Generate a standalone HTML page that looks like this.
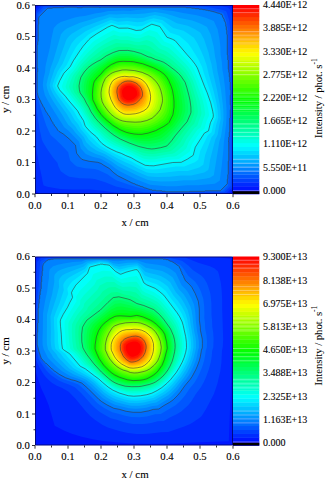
<!DOCTYPE html>
<html><head><meta charset="utf-8"><style>
html,body{margin:0;padding:0;background:#fff;width:326px;height:479px;overflow:hidden}
svg{display:block}
text{font-family:"Liberation Serif",serif;fill:#000;stroke:#000;stroke-width:0.1px}
</style></head><body>
<svg width="326" height="479" viewBox="0 0 326 479">
<clipPath id="c1"><rect x="35" y="5" width="198" height="189"/></clipPath>
<g clip-path="url(#c1)">
<rect x="35" y="5" width="198" height="189" fill="#0000ff"/>
<path fill="#0016ff" d="M231.2 193.8L36.7 193.8 35.2 192.3 35.2 191.8 35.2 6.7 36.7 5.2 37.2 5.2 231.3 5.2 232.8 6.7 232.8 7.2 232.8 191.8 232.8 192.3 231.2 193.8Z"/>
<path fill="#002bff" d="M228.8 193.3L39 193.2 35.8 190 35.6 188.8 35.8 9 39 5.8 40.2 5.6 229 5.8 232.2 9 232.4 10.2 232.4 188.8 232.2 190 228.8 193.3Z"/>
<path fill="#0041ff" d="M226.2 192.9L138.8 193 117.4 192.8 103.2 190.8 90.2 189.6 73.2 189.6 60.2 189.1 47.2 186.8 43.8 185.6 43.5 185.2 42.6 181.8 41.9 177.2 39.8 168 36.2 149 36 121.2 36 13.8 36.2 11.2 41.2 6.3 43.2 6 209.2 6 221.8 6.2 227.8 7.4 228.2 7.8 230.2 9.8 231.8 16.2 231.8 18.8 232 185.8 231.8 187.8 226.8 192.8 226.2 192.9Z"/>
<path fill="#0057ff" d="M224.2 192.3L167.2 192.6 143.8 192.2 135.2 190.7 115.8 186.5 110.8 184.6 105.2 182.2 94.8 179.1 90.2 178.6 79.8 178.3 69.2 176.8 65.7 174.8 60.8 171.3 58.4 166.2 57.4 162.8 53.2 157.7 47.8 150 43.3 142.8 41.9 139.8 39.7 129.8 36.8 112.1 36.4 95.2 36.4 49.8 36.8 13.5 43.5 6.8 45.8 6.5 183.8 6.4 200.8 6.6 205.2 6.8 213.2 7.9 220.8 9.4 225.8 10.9 226.4 11.8 227 13.2 229.3 20.8 230.2 28.8 230.7 37.2 230.7 50.2 231.2 58 231.6 83.2 231.4 170.2 231.2 177.4 230.6 185.8 230.5 186.2 224.2 192.3Z"/>
<path fill="#006dff" d="M189.2 192.2L165.8 192.2 165.2 191.7 162.2 191.7 161.8 191.4 156.2 191.2 151.8 190.8 137.8 187.6 131.2 185.6 116.8 180.4 112.3 177.8 107.4 174.2 98.2 169.9 94.8 169.1 85.2 168.3 76.8 166.6 74.5 164.8 70.2 160.6 69 156.2 68.2 152.2 61.6 145.2 55.2 139.1 50.8 135.2 49.7 133.2 46.2 125.4 41.8 112.2 39.2 103.2 37.6 95.8 37.3 95.2 37.3 93.2 36.8 92.8 36.8 72.2 37.3 71.8 37.3 69.8 37.3 68.2 36.8 67.8 36.8 45.2 37.3 44.8 37.3 41.8 37.6 41.2 37.8 40.2 37.8 24.8 38.3 17.8 38.5 14.8 38.8 14.2 43.8 9.3 47.2 7.8 52.2 7.7 52.8 7.3 63.8 7.3 64.2 6.9 76.8 6.9 77.2 7.3 79.8 7.3 82.2 7.3 82.8 6.9 85.8 6.8 99.2 6.9 99.8 7.3 100.2 7.3 100.8 6.8 101.8 6.8 185.8 6.9 186.2 7.3 191.2 7.3 191.8 7.7 194.8 7.8 209.2 9.7 217.8 11.4 222.8 12.8 223.2 13.2 224.5 15.8 226.8 22.2 227.7 28.8 228.3 38.2 228.2 51.2 228.9 59.2 229.1 67.8 230.2 77.2 230.3 81.8 230.7 82.2 230.7 89.8 231.1 90.2 231.1 94.8 230.7 95.2 230.7 100.2 230.7 104.8 231.1 105.2 231.1 109.2 230.7 109.8 230.7 117.8 230.3 118.2 230.2 119.3 230.2 131.8 229.3 141.2 229.6 151.8 229.2 169.8 228 185.8 223.8 190.2 221.8 191.2 206.7 191.2 205.2 191.3 204.8 191.7 189.8 191.7 189.2 192.2Z"/>
<path fill="#0082ff" d="M204.8 191.3L189.8 191.3 189.2 191.8 165.8 191.8 165.2 191.3 162.2 191.3 161.8 190.8 156.2 190.8 155.8 190.3 152.2 190.3 151.8 189.8 150.2 189.8 149.8 189.3 148.8 189.3 148.2 188.8 147.2 188.8 146.8 188.3 145.8 188.3 145.2 187.8 144.2 187.8 142.8 186.8 141.8 186.8 141.2 186.3 140.2 186.3 139.8 185.8 138.8 185.8 138.2 185.3 137.8 185.3 137.2 184.8 136.2 184.8 134.8 183.8 133.8 183.8 133.2 183.3 132.8 183.3 132.2 182.8 131.8 182.8 117.8 175.8 113.2 172.3 109.2 168.4 103.8 165.3 101.2 163.5 97.8 162.3 89.2 161.3 83.2 159.8 81.7 159.2 79.7 157.2 76.6 153.2 75.5 145.2 69.2 138.9 63.2 133.9 58.8 131.3 57.7 130.2 56.6 128.2 54.2 125.2 54.2 124.8 53.2 123.8 52.7 122.2 51.7 121.2 49.7 116.8 47.7 114.2 47.7 113.8 46.7 112.8 46.7 112.2 45.7 111.2 45.7 110.8 45.2 110.2 44.2 107.8 43.2 106.8 43.2 106.2 42.7 105.8 42.7 105.2 41.2 102.8 40.7 101.2 40.2 100.8 40.2 100.2 39.7 99.8 39.7 99.2 39.2 98.8 39.2 98.2 38.7 97.8 38.7 97.2 38.2 96.8 38.2 95.8 37.7 95.2 37.7 93.2 37.2 92.8 37.2 72.2 37.7 71.8 37.7 70.2 37.7 68.2 37.2 67.8 37.2 45.2 37.7 44.8 37.7 41.8 38.2 41.2 38.2 24.8 38.7 24.2 38.7 17.8 39.2 17.2 39.2 16.7 47.7 8.2 52.2 8.2 52.8 7.7 63.8 7.7 64.2 7.2 76.8 7.2 77.2 7.7 80.2 7.7 82.2 7.7 82.8 7.2 99.2 7.2 99.8 7.7 100.2 7.7 100.8 7.2 185.8 7.2 186.2 7.7 191.2 7.7 191.8 8.2 194.8 8.2 195.2 8.7 198.8 8.7 199.2 9.2 202.2 9.2 202.8 9.7 205.2 9.7 205.8 10.2 207.8 10.2 208.2 10.7 210.2 10.7 210.8 11.2 212.2 11.2 212.8 11.7 214.2 11.7 214.8 12.2 215.8 12.2 216.2 12.7 217.2 12.7 217.8 13.2 219.2 13.2 220.8 14.2 221.8 14.2 221.8 14.8 222.3 15.2 222.3 16.2 224.3 19.8 224.3 20.8 225.3 22.2 225.3 23.2 225.8 23.8 225.8 26.2 226.3 26.8 226.3 29.8 226.8 30.2 226.8 34.2 227.3 34.8 227.3 54.8 227.8 55.2 227.8 59.8 228.3 60.2 228.3 69.2 228.8 69.8 228.8 72.2 229.3 72.8 229.3 76.8 229.8 77.2 229.8 81.8 230.3 82.2 230.3 89.8 230.8 90.2 230.8 94.8 230.3 95.2 230.3 99.8 230.3 104.8 230.8 105.2 230.8 109.2 230.3 109.8 230.3 117.8 229.8 118.2 229.8 131.8 229.3 132.2 229.3 136.8 228.8 137.2 228.8 140.8 228.3 141.2 228.8 141.8 228.8 152.2 228.8 160.8 228.3 161.2 228.3 174.2 227.8 174.8 227.8 178.8 227.3 179.2 227.3 183.8 220.3 190.8 205.2 190.8 204.8 191.3Z"/>
<path fill="#0098ff" d="M175.8 186.3L166.8 186.2 155.2 185.3 150.2 184.7 146.8 183.6 135.2 178.9 120.2 171.6 116.2 169.1 110.2 164.3 102.2 159.5 99.8 158.5 92.4 156.8 85.8 154.1 80.8 148.6 79.1 141.8 68.6 130.8 64.2 127.2 52.5 108.8 48.4 101.8 44.9 95.2 43.4 89.2 42.8 84.8 43.5 78.8 45.1 71.8 45.4 67.2 46 63.8 50 47.2 51.2 39.8 53.6 28.8 54 27.8 57.3 24.2 60.8 21.9 74.8 17.6 79.8 16.6 84.8 15.9 94.8 13.5 101.8 12.6 108.2 10.9 123.2 10.4 130.2 10.7 136.2 10 154.2 8.8 156.8 8.8 165.2 10.2 173.2 11 183.2 13 196.8 15.2 205.7 17.8 213.8 21 217.6 29.2 219.5 39.2 220.4 46.8 220.6 54.2 221.8 61.8 222.4 69.8 223.7 76.8 225.1 88.2 226.5 108.2 226.6 114.8 226.1 124.2 223.8 143.2 223.4 149.8 221.9 164.2 219.8 180.4 219.2 181.1 214.8 183.8 198.2 185.2 187.2 185.3 175.8 186.3Z"/>
<path fill="#00aeff" d="M173.2 181.3L160.8 181.4 151.8 180.7 147.8 179.9 136.2 175.1 121.8 168.1 117.8 165.9 111.2 161.2 103.8 156.7 100.8 155.5 95.8 153.9 90.1 151.2 88.2 150.2 83.8 145.3 81.6 139.2 75.5 132.8 72.1 128.2 68.2 124.8 65.3 120.2 62.5 115.2 53.5 101.8 49.4 94.8 47.2 88.8 46.5 84.8 47.7 78.8 49.5 72.8 50.3 68.8 53.5 59.8 61 34.2 64 30.8 66.8 28.6 79.9 22.8 87.8 20.6 97.2 17.6 103.2 16.2 109.2 14.2 116.8 14.6 124.2 14.1 130.2 14.3 138.2 14 144.8 13.6 155.2 12 166.1 13.8 172.2 15.5 179.8 18.1 192.2 20.6 200.8 23.8 206.7 26.8 207.1 27.2 210.6 34.2 213.8 46.9 215.1 56.8 216.6 63.8 217.4 70.8 218.9 77.8 221 89.8 222.9 105.2 223.4 111.2 223.5 119.8 221.6 132.8 220.9 136.8 219.4 141.2 213.9 174.8 213.8 175.3 209.8 177.8 206.2 178.5 194.2 180.2 184.2 180.2 173.2 181.3Z"/>
<path fill="#00c3ff" d="M169.8 176.8L158.2 177.1 152.2 176.8 147.8 176.2 137.2 171.7 123.2 165 117.2 161.8 111.8 158.2 104.8 154.1 96.9 150.8 90.8 146.8 86.3 142.2 83.8 136.9 78.1 130.8 75.2 126.2 71.9 122.8 66.8 114.1 58 101.8 53.4 94.8 50.7 89.2 49.6 85.2 51 79.8 54.2 70.2 58.4 61.8 66.6 39.2 69.2 36.1 71.8 33.8 83.2 27.1 98.8 21.2 109.8 17.3 117.2 18.2 126.8 17.6 137.8 18.2 143.8 17.7 149.8 16.1 154.8 15.1 164.2 17 169.3 19.2 176.8 23.2 187.8 25.7 195 29.2 200.5 32.8 204.1 39.2 208.6 52.8 209.9 58.8 211.4 63.8 212.9 72.2 216.9 89.2 219.6 103.8 220.4 110.8 220.8 118.8 219.2 125.8 217.7 134.8 215.4 139.2 210.2 159.2 209 167.2 208.2 170.1 204.2 172.6 191.2 175.4 181.2 175.5 169.8 176.8Z"/>
<path fill="#00d9ff" d="M163.8 172.8L156.2 173.2 150.8 172.9 146.8 172.4 137.2 168.1 131.8 165.1 124.8 162 117.2 158.3 105.8 151.8 99.2 148.5 96.1 146.2 93.1 143.8 88.8 139.5 86.1 135.2 80.8 129.2 78.2 124.2 74.8 120.2 70.5 112.8 66.6 107.8 56.4 93.8 53.8 89.2 53 87.2 52.5 85.8 52.9 83.8 54.6 78.8 57.7 71.2 62.6 63.8 67 53.2 71.4 43.8 73.7 40.8 76.2 38.1 85.2 31.4 95.2 26.6 110.2 20.2 111.2 20.1 117.8 21.7 127.2 21.1 137.2 22.3 143.2 21.8 148.8 19.6 153.8 18.2 162.8 20.2 173.2 27.9 183.5 30.8 188.3 33.8 193.9 37.8 197.4 43.2 201.2 51.2 203.4 56.2 206.5 64.8 208.6 73.8 213.5 90.8 216.3 102.2 217.6 109.8 218.3 117.8 216.2 124.8 214.5 133.8 211.5 137.2 205.1 155.2 203.3 164.8 199.2 167.4 187.8 170.9 178.2 171 163.8 172.8Z"/>
<path fill="#00efff" d="M157.2 169.3L152.8 169.4 146.2 168.9 136.8 164.4 131.2 161.3 125.2 158.8 111.8 152.3 100.4 145.8 96.7 142.2 94.2 139.5 91 136.8 82.8 127.2 80.9 122.2 77.8 118.2 74.2 111.8 58.8 92.4 56.6 89.2 55 85.8 57.5 79.2 60.9 72.2 66.5 65.2 71.4 55.2 75.9 47.2 78.2 44.2 81 41.2 88.2 34.7 92.3 32.2 102.6 26.8 111.2 22.7 118.2 25 127.2 24.6 136.8 26.4 142.2 25.9 149.2 22.5 152.2 21.3 153.2 21.3 161.2 23.3 170.2 32.7 179.4 35.8 187.9 43.2 191.2 47.8 198.2 59 202 66.8 204.4 74.8 210.2 91.8 214.1 105.2 215.2 111.2 215.9 117.2 213.3 123.8 211.5 132.2 207.8 135.2 200.2 150.9 198.2 159.8 194.8 162.3 184.2 166.6 175.8 166.6 157.2 169.3Z"/>
<path fill="#00fffa" d="M153.8 165.8L149.8 165.7 145.2 165.3 136.2 160.7 131.2 157.7 125.8 155.6 121.2 153.3 116.7 151.8 111.1 149.2 106.7 146.8 102.2 143.7 99.5 140.8 96.4 136.8 90.2 131.7 85.8 126.8 84.9 125.2 83.6 120.8 80 115.2 77.6 110.8 68.2 99.9 65.4 96.2 60.3 90.8 59.2 89.2 57.7 86.2 57.8 85.4 59.8 80.6 63.9 73.2 70.1 66.8 73.3 60.8 79.9 50.8 83.2 46.2 88.7 39.8 90.9 37.8 96.7 33.8 107.7 27.2 111.8 25.4 113.3 25.8 118.8 28.2 127.8 28.1 130.8 28.8 136.2 30.5 141.2 30.1 145.8 27.3 151.8 24.2 159.8 26.5 166.9 37.2 172.3 39.2 175.2 40.7 187.2 54.8 191.7 59.8 195.1 64.2 197.3 67.8 198.1 69.8 204.4 86.2 207.2 92.8 210.7 102.8 212.7 111.2 213.3 114.8 213.2 117.1 210.4 122.8 208.5 130.8 204.3 133.2 195.3 147.2 193.2 155.3 187.3 159.2 181.2 162.3 172.8 162.5 153.8 165.8Z"/>
<path fill="#00ffe4" d="M154.2 162.3L149.2 162.3 144.2 161.6 136.2 157.9 131.2 155 113.2 147.4 108.2 144.5 103.6 141.2 97.8 134.8 91.8 129.8 87.2 124.5 85.3 119.2 82.3 114.8 79.6 109.8 77 106.8 68.7 96.2 65.1 92.2 63.3 89.8 61.9 86.8 62 85.8 63.6 81.2 67.1 74.2 69.1 71.8 72.6 68.2 77 60.8 83.2 52.6 86.2 49 92.6 42.2 95.2 40.3 106.8 33.4 113.2 30.2 119.8 32.6 127.8 32.4 136.2 34.6 140.8 34.4 145.2 32 149.8 30.1 154.2 31.2 157.2 32.2 164.2 41.5 171.8 44.4 175.2 47.8 187.4 60.8 191.8 66.1 194.1 69.8 198.5 79.8 206.1 100.2 208.2 108.8 209 114.2 208.9 115.8 206.5 121.2 204.5 128.8 200.7 131.2 192 144.2 189.5 151.8 184.2 155.6 178.8 158.9 176.2 159.3 171.2 159.4 154.2 162.3Z"/>
<path fill="#00ffce" d="M154.8 159.3L151.2 159.4 148.2 159.2 144.2 158.7 142.8 158.2 135.8 155 131.2 152.6 114.8 145.5 109.2 142.4 104.8 139.1 99.2 133.2 93.2 128 89.1 123.2 87.2 118.8 84.3 114.2 81.6 109.2 68.3 92.2 66.7 89.8 65.5 86.8 67.2 81.2 70.2 74.8 74.9 69.2 79.2 62.4 86.8 53.7 94.8 45.8 97.2 43.9 107.8 37.7 114.2 34.7 120.2 36.4 127.8 36.3 135.8 38.3 139.8 38.3 144.8 36.3 148.2 35.2 154.8 37.2 161.8 45.1 168.7 47.8 172.2 50.7 184.8 62.9 188.5 67.2 191.2 71.2 195.6 80.2 201.9 97.8 203.3 102.8 204.4 107.8 205.2 114.2 204.9 115.2 203.1 119.8 200.8 127.2 197.4 129.8 189 141.8 186.2 148.6 181.2 152.7 176.2 156 174.2 156.4 169.2 156.8 154.8 159.3Z"/>
<path fill="#00ffb8" d="M156.8 156.3L154.2 156.6 150.2 156.6 144.8 156 142.2 155.3 116.8 144.1 111.7 141.2 107.2 138.2 103.8 135.1 100.2 131.4 94.8 126.5 90.8 122 88.7 117.8 85.8 113.2 83.5 108.8 77.2 99.9 71.3 92.2 69.5 88.2 69.1 86.8 69.6 84.2 70.9 80.2 72.9 75.8 74.2 73.8 77.2 70.2 80.8 64.8 82.8 62.4 89.2 55.8 97.9 48.2 104.2 44.2 110.8 40.8 115.2 38.9 116.8 39 120.8 40 127.8 40 135.2 41.7 139.2 42 143.8 40.7 146.8 40.1 152.2 41.9 159.2 48.4 165.8 50.9 169.8 53.7 174.2 57.4 182.8 65.5 185.8 68.8 188.2 72.1 192.7 80.2 194 83.8 199.4 100.2 200.7 106.2 201.4 112.2 201.5 113.2 200.9 115.8 199.6 118.8 197.5 125.2 196.8 126.2 194.6 127.8 186.2 139.2 183.2 145.4 176.7 151.2 174.2 153 172.2 153.7 167.8 154.3 156.8 156.3Z"/>
<path fill="#00ffa3" d="M155.2 153.8L152.2 154 147.8 153.7 142.8 152.8 139.8 151.8 118.2 142.5 112.8 139.4 108.8 136.6 96.4 125.2 92.4 120.8 87.6 112.8 85.3 108.2 79.8 99.8 74.5 92.8 73.4 90.2 72.6 87.8 72.7 85.2 75.2 77.2 76.2 75.2 83.6 65.2 91.2 58.3 100.8 50.8 104.2 48.6 109.8 45.7 116.2 43 117.2 42.9 121.8 43.5 128.2 43.6 134.8 45.1 138.2 45.5 144.8 44.8 150.2 46.7 157.2 51.9 163.2 54.2 168.2 57.2 171.8 59.8 179.6 66.8 183.2 70.4 185.8 73.6 190 80.8 191.2 83.8 196.1 99.8 197.3 105.8 197.9 111.2 197.5 114.8 194.1 123.8 191.6 126.2 186.5 132.8 183.2 137.2 180.1 142.8 176.2 146.8 172.2 150.2 170.2 151.2 155.2 153.8Z"/>
<path fill="#00ff8d" d="M154.8 151.3L152.2 151.5 146.8 150.9 142.2 150 137.2 148.4 119.4 140.8 114.2 137.8 110.8 135.4 104.8 130.3 98.2 124.2 93.8 119.3 89.6 112.8 87.4 108.2 84.5 103.8 82.1 99.2 77.1 92.2 75.9 87.8 75.9 85.8 77.6 78.8 78.9 75.8 85.2 67 90.8 62.4 94.8 59.5 98.8 57.1 103.2 53.6 107.8 51 114.8 47.8 118.2 46.8 128.2 47.1 137.8 49.1 143.2 49.4 148.2 51.3 155.2 55.2 164.2 58.9 166.8 60.3 169.8 62.5 177.8 69 181.5 72.8 184.9 77.2 187.8 82.2 189.8 88.2 192.6 98.2 193.7 103.8 194.3 108.8 194.4 111.2 194.2 113.8 190.8 122.2 183.7 130.8 176.1 141.2 172.9 144.8 169.8 147.8 168.8 148.5 167.2 148.9 160.8 150.3 154.8 151.3Z"/>
<path fill="#00ff77" d="M154.2 148.8L151.8 149 147.8 148.6 138.8 146.5 129.2 143 120.2 139 114.2 135.4 110.2 132.4 105.2 128.2 99.2 122.5 95.4 118.2 91 111.8 88.8 107.2 86.4 103.2 84.3 98.8 80.1 92.8 79.4 89.8 79 85.8 79.9 80.8 80.9 77.2 84.2 72 88.2 67.5 92.2 64.5 97.2 61.5 100.8 59.8 106.2 55.9 113.2 52.5 119.2 50.5 127.8 50.4 133.8 51.4 140.8 53.4 148.2 56.8 150.8 57.4 155.8 59.6 160.2 60.9 163.8 62.3 167.2 64.5 175.2 70.5 178.8 73.7 181 76.2 185.1 82.2 186.9 87.8 189 95.8 190.1 100.8 190.9 107.2 191 112.2 190.4 114.2 187.1 121.8 181 128.8 175.2 135.8 171.6 140.8 167.2 145.7 166.2 146.2 160.8 147.7 154.2 148.8Z"/>
<path fill="#00ff62" d="M152.2 146.3L149.8 146.4 144.8 145.8 138.8 144.6 134.2 143.2 128.2 141 120.8 137.7 116.8 135.5 112.2 132.4 105.8 127 100.2 121.9 95.8 116.8 92.2 111.5 87.5 102.8 85.8 98.8 82.2 92.8 81.3 86.2 82.4 80.8 83.2 77.7 87.4 71.8 90.1 68.8 96.8 63.9 102.2 60.8 107.5 57.2 113.8 54.2 118.2 52.7 120.8 52.3 126.8 52.3 131.8 52.9 141.2 55.4 154.8 60.8 160.8 62.8 163 63.8 166.1 65.8 174.5 72.2 178.8 76.8 182.7 82.8 184.4 87.8 186.7 96.8 187.5 101.2 188.1 106.8 188.1 111.8 184.9 120.2 176.8 130.6 173.2 134.3 169.2 139.2 165.2 143.3 158.8 145.2 152.2 146.3Z"/>
<path fill="#00ff4c" d="M150.8 143.8L147.8 143.8 143.2 143.4 137.8 142.4 133.2 141.1 127.8 139.1 120.8 136.2 116.2 133.6 112.2 130.9 106.8 126.4 101.2 121.2 98.4 118.2 96 115.2 93.4 111.2 89.1 103.2 87.2 98.8 84.5 93.2 84.1 91.8 83.7 86.8 84.4 82.2 85.6 78.2 88.7 73.8 91.8 70.2 98.2 65.2 107.8 59 113.8 56 117.8 54.7 120.8 54.1 125.2 54 131.8 54.6 141.8 57.2 153.8 61.9 159.2 63.7 161.8 64.9 164.8 66.7 172 72.2 176.6 77.2 180.4 83.2 182 88.2 184 96.8 185.2 105.8 185.3 110.8 184 115.2 182.5 119.2 175.8 128.3 167.8 136.8 163.4 140.8 156.8 142.7 150.8 143.8Z"/>
<path fill="#00ff36" d="M149.2 141.3L142.2 141.1 137.2 140.3 133.2 139.3 128.2 137.7 122.2 135.3 118.8 133.6 114.8 131.1 107.3 125.2 101.8 120.2 99 117.2 94.7 111.2 89 100.2 86.3 92.8 86.1 90.8 86.1 85.8 86.9 81.8 87.8 79.1 90 75.8 92.5 72.8 98.1 67.8 107.8 60.9 114.2 57.6 117.8 56.5 121.2 55.9 128.2 56 132.2 56.4 141.8 58.8 157.2 64.5 162.8 67.3 169.4 72.2 172.4 75.2 174.4 77.8 178 83.8 179.6 88.8 181.2 95.8 182.4 104.2 182.5 109.8 181.4 114.2 180 118.2 174.2 126.8 166.8 133.9 162.2 137.6 161.2 138.3 157.2 139.6 149.2 141.3Z"/>
<path fill="#00ff21" d="M147.8 138.8L141.2 138.8 136.8 138.3 132.8 137.4 128.2 136.1 122.8 134 119.2 132.4 115.8 130.3 108.8 125 102.9 119.8 100.1 116.8 95.7 110.8 90.5 100.8 88.8 94.8 88.3 91.8 88.5 85.8 89.4 81.2 90 79.8 94.2 74.2 101.1 67.8 108.2 62.6 114.2 59.5 117.2 58.5 121.2 57.7 128.2 57.8 132.2 58.2 141.8 60.4 155.2 65.3 161.2 68.2 167.2 72.5 171.9 77.8 175.4 83.8 177.7 91.2 179 97.8 179.5 102.8 179.6 109.2 178.6 113.8 177.5 117.2 175.2 121.2 172.2 125.6 166.2 130.8 162.2 133.9 159.8 135.6 157.8 136.3 152.2 137.9 147.8 138.8Z"/>
<path fill="#00ff0b" d="M146.2 136.3L142.2 136.6 138.2 136.4 134.2 135.9 130.2 135 122.2 132.3 116.2 129.1 109.8 124.3 103.8 119 101.1 116.2 96.8 110.2 91.8 100.8 90.9 96.2 90.4 92.2 90.7 86.8 91.8 81.2 95.8 76 103.4 68.2 108.8 64.2 114.2 61.3 116.8 60.3 121.2 59.6 132.2 59.9 141.8 62 153.7 66.2 160.2 69.5 165.6 73.2 170.1 78.8 173.1 84.2 175.3 91.8 176.4 97.8 176.8 102.8 176.8 107.8 176.3 111.2 175.3 115.8 174.1 118.2 170.5 124.2 162.8 130.1 158.8 132.5 156.8 133.4 150.8 135.3 146.2 136.3Z"/>
<path fill="#0bff00" d="M141.8 134.3L138.2 134.3 134.2 134 129.8 133.2 126.2 132.3 119.8 129.6 112.8 125.3 105.1 118.8 101.2 114.6 97.2 108.8 92.8 99.8 92.4 94.2 92.9 87.8 93.5 83.8 94.4 81.2 97.5 77.2 100.8 74.2 103.6 70.8 106.2 68.2 111.2 64.6 116.8 62.1 119.8 61.5 123.2 61.3 130.2 61.5 133.8 61.8 142.8 63.8 153.5 67.8 159.8 71 164.2 74.2 166.7 77.2 168.6 80.2 171.4 86.8 172.6 90.8 173.6 96.8 174 101.2 174 107.2 172.9 114.8 169.2 122.3 167.7 123.8 163.8 126.4 155.8 130.6 148.2 133.1 141.8 134.3Z"/>
<path fill="#21ff00" d="M140.8 132.3L134.2 132.1 126.8 130.6 120.2 128.2 113.8 124.4 105.8 117.8 102.2 113.9 98.4 108.2 94.3 99.8 93.9 96.2 94 91.8 94.8 85.4 95.4 82.8 95.9 81.8 99.2 77.2 106.8 69.3 111.2 66.2 116.8 63.7 119.8 63 123.2 62.7 133.2 63.2 142.2 65.2 152.2 68.8 158.2 71.9 162.7 75.2 166.8 80.8 169.4 86.8 170.7 91.2 171.8 97.2 172.1 101.8 172 106.2 171.6 110.2 170.8 113.8 169.3 117.2 167.2 120.8 165.7 122.2 162.2 124.8 155.2 128.5 147.8 131 140.8 132.3Z"/>
<path fill="#36ff00" d="M140.2 130.3L134.2 130.1 126.2 128.7 120.2 126.6 114.2 123.1 107.2 117.4 103.8 113.7 99.6 107.8 96 100.2 95.3 96.8 95.4 91.8 96.3 85.2 96.9 82.8 97.5 81.8 100.7 77.2 106.8 70.9 111.2 67.7 116.8 65.2 119.2 64.6 122.8 64.2 132.8 64.6 141.8 66.5 150.2 69.5 156.2 72.6 160.8 75.9 164.9 81.2 167.4 86.8 168.7 90.8 169.7 96.2 170.1 100.2 170.1 104.2 169.7 108.2 168.9 112.2 167.9 114.8 166 118.2 165 119.8 161.9 122.2 158.2 124.6 155.2 126.1 151.8 127.6 147.2 129 140.2 130.3Z"/>
<path fill="#4cff00" d="M139.2 128.3L133.8 128.1 125.8 126.8 120.2 124.9 115.2 122.2 108.9 117.2 105.4 113.8 101.2 108.1 98.2 102.2 97 98.8 96.7 94.2 97.2 88.2 98.3 83.2 101.4 78.2 105.8 73.3 109.8 70.1 114.2 67.8 118.5 66.2 121.2 65.8 124.8 65.6 131.2 65.9 134.8 66.3 140.8 67.7 147 69.8 150.2 71.1 153.8 72.9 158.8 76.5 162.7 81.2 165 85.8 166.3 89.2 167.2 92.8 168 97.2 168.3 101.8 167.9 106.2 167 110.8 166.1 113.2 164.8 115.6 163 118.2 161.8 119.3 157.9 122.2 154.8 124 151.2 125.5 146.8 127 142.8 127.8 139.2 128.3Z"/>
<path fill="#62ff00" d="M137.8 126.3L133.2 126 124.8 124.8 120.2 123.3 115.8 121 111.8 118.1 106.8 113.4 102.5 107.8 99.8 102.8 98.5 98.8 98.1 94.8 98.6 88.8 99.7 83.8 102.2 79.2 105.2 75.4 109.8 71.6 113.8 69.4 119.2 67.6 125.2 67 133.8 67.6 143.2 69.9 149.8 72.4 153 74.2 155.8 76.2 157.8 78 160 80.8 161.7 83.2 163.2 86.2 164.5 89.8 165.4 93.2 166.1 97.2 166.3 101.2 165.9 105.2 165.2 108.8 164.2 111.8 163.1 113.8 161.2 116.4 159.9 117.8 156.8 120.3 153.8 122.2 149.8 123.9 145.8 125.1 141.2 126 137.8 126.3Z"/>
<path fill="#77ff00" d="M141.8 123.8L136.2 124.2 127.8 123.6 123.2 122.7 119.2 121.3 114.2 118.5 109.8 114.8 107 111.8 102.8 105.8 100.9 101.8 99.6 96.8 99.6 91.8 100.4 86.8 102 82.2 104.9 77.2 107.8 74.5 111.2 72 114.8 70.5 118.8 69.3 123.8 68.5 133.2 68.9 140.8 70.6 147.2 72.9 152.3 75.8 156.4 79.2 160.1 84.2 161.6 87.2 162.8 90.8 163.9 95.2 164.3 98.8 164.4 101.2 164 104.2 163.2 107.8 162.2 110.8 159 115.2 153.7 119.8 148.2 122.2 141.8 123.8Z"/>
<path fill="#8dff00" d="M140.8 121.9L135.2 122.2 126.8 121.7 122.8 121 119.8 120 115.2 117.6 111.2 114.5 108.2 111.2 104.2 105.7 102.2 101.8 101.2 97.2 101 92.8 101.5 88.8 103.1 83.2 105.2 78.7 106.8 76.8 110.8 73.7 112.8 72.6 115.8 71.5 122.2 70 126.2 69.9 134.8 70.6 142.2 72.4 148.2 75 151.2 77 153.8 79.1 156.2 81.8 158 84.2 159.6 87.2 160.9 90.8 161.9 94.8 162.4 98.2 162.5 100.8 162.1 103.2 160.1 109.8 156.6 114.2 152.1 118.2 146.8 120.5 140.8 121.9Z"/>
<path fill="#a3ff00" d="M137.2 120.8L134.2 120.8 125.2 120.3 121.8 119.5 118.2 118 114.2 115.4 110.8 112.2 108.4 109.2 104.5 103.2 103.2 99.8 102.4 95.2 102.4 91.2 103.3 86.8 104.8 82.2 107 78.2 109.8 75.8 112.8 73.9 115.8 72.7 119.8 71.6 124.8 71 133.2 71.4 140.8 73.1 146.1 75.2 150.2 77.9 154.2 81.8 157.2 86.2 158.5 89.2 159.4 92.2 160.2 95.8 160.5 99.2 159.8 104.2 158.1 109.2 154.6 113.8 150.8 117 147.8 118.4 144.8 119.4 137.2 120.8Z"/>
<path fill="#b8ff00" d="M137.8 119.3L134.2 119.5 125.8 119.1 122.8 118.6 119.2 117.1 115.5 114.8 112.1 111.8 109.8 108.8 106.2 103.2 104.9 100.2 103.8 95.8 103.7 91.8 104.4 87.2 105.8 83.2 107.8 79.2 109.8 77.2 113.2 74.9 117.8 73.2 121.2 72.4 124.2 72 133.2 72.5 139.8 73.9 144.8 75.9 148.5 78.2 152.2 81.8 155.3 86.2 157.4 91.8 158.5 98.2 158.4 100.2 157.9 103.2 156.3 108.2 153.2 112.5 149.3 115.8 144.2 117.9 137.8 119.3Z"/>
<path fill="#ceff00" d="M138.2 117.8L134.2 118.1 126.8 118 123.2 117.5 120.8 116.5 116.9 114.2 113.8 111.6 111.3 108.8 108.1 103.8 106.6 100.8 105.4 96.2 105 92.2 105.3 89.2 106.5 84.8 108.4 80.8 110.2 78.3 112.8 76.5 116.8 74.6 122.8 73.2 125.8 73.1 134.8 73.8 140.8 75.3 145.6 77.8 149.3 80.8 152.4 84.8 153.9 87.2 154.9 89.8 155.8 92.8 156.4 96.2 156.5 99.2 156.3 101.2 154.8 106.9 151.9 111.2 148.3 114.2 143.8 116.3 138.2 117.8Z"/>
<path fill="#e4ff00" d="M134.2 116.8L127.8 116.8 124.8 116.5 122.2 115.9 119.1 114.2 116.2 112.2 113.4 109.2 111.6 106.8 108.2 100.9 106.9 96.8 106.4 93.2 106.5 90.2 107.2 86.8 108.5 83.2 110.2 80.1 112.2 78.2 115.2 76.4 120.8 74.6 124.8 74.2 128.8 74.5 133.2 74.6 138.8 75.8 143.3 77.8 146.7 80.2 149.8 83.8 152.2 87.8 153.9 92.8 154.4 95.8 154.5 98.8 153.5 104.2 152.8 106.2 151.4 108.8 150.4 110.2 148.8 111.7 144.8 114.1 139.2 116 134.2 116.8Z"/>
<path fill="#faff00" d="M135.2 115.3L125.8 115.5 123.8 115.1 120.8 113.8 117.8 111.8 115.1 109.2 112.9 106.2 110.2 101.6 109 98.8 108 94.8 107.7 91.8 108.1 88.2 109.2 84.5 111.2 80.8 112.2 79.6 115.2 77.7 118.8 76.2 123.8 75.3 129.2 75.7 132.8 75.6 136.8 76.3 140.8 77.7 144.2 79.9 147.6 83.2 150 87.2 151.9 92.2 152.5 97.8 151.9 102.8 150.1 107.2 148.8 109.4 144.8 112.2 139.8 114.3 135.2 115.3Z"/>
<path fill="#ffef00" d="M129.8 114.3L126.2 114.3 123.8 113.9 120.5 112.2 117.8 110.2 115.5 107.8 113.5 104.8 111 99.8 109.5 95.2 109 92.2 109.3 88.8 110.2 85.4 111.8 82.2 113.2 80.3 115.2 79 118.2 77.5 121.2 76.7 124.8 76.3 129.1 76.8 133.2 76.7 137.2 77.6 140.8 79 143.8 81.1 146.5 84.2 148.9 88.8 150 92.2 150.6 96.2 150.4 100.2 149.2 104.8 147.3 108.2 143.8 110.8 139.2 112.8 135.2 113.8 129.8 114.3Z"/>
<path fill="#ffd900" d="M128.8 112.8L125.2 112.6 123.2 112 119.8 110 117.2 107.8 114.9 104.8 112.5 100.2 111.5 97.8 110.5 93.8 110.4 90.8 111 87.2 112.2 84.2 113.8 81.7 115.4 80.2 117.8 78.9 122.8 77.3 125.8 77.1 133.8 77.6 137.8 78.7 140.8 80.2 143.3 82.2 145.8 85.3 147.8 89.2 148.9 93.2 149.2 96.8 148.8 100.2 147.8 103.6 146.1 106.8 142.8 109.3 138.2 111.4 134.2 112.4 128.8 112.8Z"/>
<path fill="#ffc300" d="M133.8 110.8L126.8 111.2 124.8 110.9 122.2 109.9 119.8 108.3 117.2 105.9 115.7 103.8 113.9 100.2 112.7 97.2 111.8 93.2 111.7 90.8 112.2 87.8 113.1 85.2 115 82.2 116.8 80.8 118.8 79.6 122.2 78.4 125.2 77.9 132.2 78.2 135.8 79 138.9 80.2 141.8 82.2 144.1 84.8 146.1 88.2 147.4 92.2 147.8 96.8 147.2 100.2 145.8 103.8 144.5 105.8 141.2 108.1 137.2 109.9 133.8 110.8Z"/>
<path fill="#ffae00" d="M132.8 109.3L128.8 109.7 126.2 109.6 124.8 109.3 122.2 108.2 119.8 106.5 117.8 104.6 116.4 102.8 114.7 99.2 113.4 94.8 113 92.2 113.2 89.8 113.7 87.2 114.8 84.9 116.2 82.8 118.2 81.2 120.8 79.9 123.8 79 127.2 78.7 132.2 79 136.6 80.2 139.5 81.8 141.8 83.8 143.7 86.2 145.2 89.2 146.2 92.8 146.4 96.8 145.5 100.2 144 103.2 142.2 105.2 139.2 107.2 135.8 108.7 132.8 109.3Z"/>
<path fill="#ff9800" d="M132.2 107.8L128.8 108.1 126.2 108 124.2 107.5 122.2 106.6 119.8 104.8 117.8 102.8 115.6 98.2 114.4 92.2 114.5 89.8 115 87.2 116.2 84.9 117.6 83.2 119.8 81.6 122.7 80.2 126.2 79.5 130.8 79.6 133.2 80.1 136.2 81.1 139.1 82.8 141.2 84.8 142.8 86.8 144.1 89.8 144.9 92.8 145.1 96.2 144.2 99.1 142.8 101.8 141.6 103.2 138.3 105.8 135.2 107.1 132.2 107.8Z"/>
<path fill="#ff8200" d="M131.2 106.3L128.8 106.5 126.2 106.4 124.2 105.9 122.2 104.9 120.2 103.5 118.6 101.8 116.6 97.2 115.7 91.8 115.9 89.2 116.4 87.2 118 84.8 119.5 83.2 121.8 81.8 124.2 80.8 127.2 80.3 130.8 80.4 133.2 81 136.5 82.2 138.7 83.8 140.7 85.8 142.2 88.2 143.2 90.8 143.7 93.2 143.7 96.2 142.8 98.6 141.3 100.8 139.2 102.9 136.8 104.6 134.2 105.7 131.2 106.3Z"/>
<path fill="#ff6d00" d="M130.8 104.8L129.2 105.1 127.2 105.1 124.8 104.6 123.2 103.9 121.8 103.1 119.7 101.2 119 100.2 117.9 97.8 116.9 92.2 117 90.2 117.5 87.8 118.4 86.2 120.8 83.7 122.8 82.4 125.2 81.4 127.8 81 130.2 81.1 132.2 81.5 135.8 82.9 138.2 84.7 140.1 86.8 141 88.2 142 90.8 142.5 93.2 142.4 95.8 141.5 97.8 140.4 99.2 136.8 102.6 135.2 103.6 132.8 104.5 130.8 104.8Z"/>
<path fill="#ff5700" d="M129.8 104.3L127.2 104.3 124.8 103.8 122.6 102.8 120.6 101.2 119.8 100.2 118.8 98 117.7 92.8 117.7 90.2 118.1 88.2 120.1 85.2 121.8 83.8 123.5 82.8 125.2 82.1 127.8 81.7 130.2 81.7 132.2 82.2 135.1 83.2 137.2 84.7 138.8 86.2 140.2 88.3 141.2 90.7 141.7 93.2 141.5 96.2 140.3 98.2 138.8 100 136.8 101.8 134.8 103 132.8 103.8 129.8 104.3Z"/>
<path fill="#ff4100" d="M131.8 103.3L127.8 103.7 124.1 102.8 122.2 101.6 120.7 100.2 119.3 97.2 118.4 92.2 118.5 90.2 119 88.2 120.2 86.2 121.7 84.8 123.2 83.7 125.2 82.9 127.8 82.4 129.8 82.4 131.8 82.8 134.8 83.9 136.8 85.2 138.2 86.6 139.4 88.2 140.3 90.2 140.9 92.8 140.9 95.2 139.8 97.8 138.5 99.2 135.8 101.6 133.8 102.7 131.8 103.3Z"/>
<path fill="#ff2b00" d="M129.8 102.8L127.2 102.8 125.2 102.3 123.2 101.3 121.8 100 120.8 98.8 120.2 97.2 119.3 92.8 119.6 89.2 121.2 86.5 122.5 85.2 124.1 84.2 127.8 83.2 129.8 83.2 131.8 83.6 134.2 84.6 136.1 85.8 137.6 87.2 138.8 88.8 139.6 90.8 140 92.8 139.9 95.8 137.8 98.8 135.5 100.8 133.8 101.8 129.8 102.8Z"/>
<path fill="#ff1600" d="M128.8 101.8L126.8 101.6 125.2 101.1 123.8 100.2 122.2 98.9 121 96.2 120.4 91.8 120.8 89.2 121.8 87.7 123.1 86.2 125.8 84.8 129.2 84.2 131.2 84.6 133.2 85.3 134.8 86.1 136.2 87.2 137.4 88.8 138.2 90.4 138.8 92.2 138.9 94.2 138.8 95.2 137.8 97.1 135.1 99.8 132.2 101.2 128.8 101.8Z"/>
<path fill="#ff0000" d="M131.2 99.9L128.8 100.2 126.2 99.7 123.8 98 122.7 96.2 122 92.8 122.2 90.2 123.9 87.8 126.2 86.3 129.2 85.8 132.8 86.7 135.2 88.6 136.8 91 137.2 93.8 137.2 94.8 136.7 95.8 135.5 97.2 133.8 98.8 131.2 99.9Z"/>
<path fill="none" stroke="#3a3a3a" stroke-width="0.7" stroke-opacity="0.85" stroke-linejoin="round" d="M204.8 191.3L189.8 191.3 189.2 191.8 165.8 191.8 165.2 191.3 162.2 191.3 161.8 190.8 156.2 190.8 155.8 190.3 152.2 190.3 151.8 189.8 150.2 189.8 149.8 189.3 148.8 189.3 148.2 188.8 147.2 188.8 146.8 188.3 145.8 188.3 145.2 187.8 144.2 187.8 142.8 186.8 141.8 186.8 141.2 186.3 140.2 186.3 139.8 185.8 138.8 185.8 138.2 185.3 137.8 185.3 137.2 184.8 136.2 184.8 134.8 183.8 133.8 183.8 133.2 183.3 132.8 183.3 132.2 182.8 131.8 182.8 117.8 175.8 113.2 172.3 109.2 168.4 103.8 165.3 101.2 163.5 97.8 162.3 89.2 161.3 83.2 159.8 81.7 159.2 79.7 157.2 76.6 153.2 75.5 145.2 69.2 138.9 63.2 133.9 58.8 131.3 57.7 130.2 56.6 128.2 54.2 125.2 54.2 124.8 53.2 123.8 52.7 122.2 51.7 121.2 49.7 116.8 47.7 114.2 47.7 113.8 46.7 112.8 46.7 112.2 45.7 111.2 45.7 110.8 45.2 110.2 44.2 107.8 43.2 106.8 43.2 106.2 42.7 105.8 42.7 105.2 41.2 102.8 40.7 101.2 40.2 100.8 40.2 100.2 39.7 99.8 39.7 99.2 39.2 98.8 39.2 98.2 38.7 97.8 38.7 97.2 38.2 96.8 38.2 95.8 37.7 95.2 37.7 93.2 37.2 92.8 37.2 72.2 37.7 71.8 37.7 70.2 37.7 68.2 37.2 67.8 37.2 45.2 37.7 44.8 37.7 41.8 38.2 41.2 38.2 24.8 38.7 24.2 38.7 17.8 39.2 17.2 39.2 16.7 47.7 8.2 52.2 8.2 52.8 7.7 63.8 7.7 64.2 7.2 76.8 7.2 77.2 7.7 80.2 7.7 82.2 7.7 82.8 7.2 99.2 7.2 99.8 7.7 100.2 7.7 100.8 7.2 185.8 7.2 186.2 7.7 191.2 7.7 191.8 8.2 194.8 8.2 195.2 8.7 198.8 8.7 199.2 9.2 202.2 9.2 202.8 9.7 205.2 9.7 205.8 10.2 207.8 10.2 208.2 10.7 210.2 10.7 210.8 11.2 212.2 11.2 212.8 11.7 214.2 11.7 214.8 12.2 215.8 12.2 216.2 12.7 217.2 12.7 217.8 13.2 219.2 13.2 220.8 14.2 221.8 14.2 221.8 14.8 222.3 15.2 222.3 16.2 224.3 19.8 224.3 20.8 225.3 22.2 225.3 23.2 225.8 23.8 225.8 26.2 226.3 26.8 226.3 29.8 226.8 30.2 226.8 34.2 227.3 34.8 227.3 54.8 227.8 55.2 227.8 59.8 228.3 60.2 228.3 69.2 228.8 69.8 228.8 72.2 229.3 72.8 229.3 76.8 229.8 77.2 229.8 81.8 230.3 82.2 230.3 89.8 230.8 90.2 230.8 94.8 230.3 95.2 230.3 99.8 230.3 104.8 230.8 105.2 230.8 109.2 230.3 109.8 230.3 117.8 229.8 118.2 229.8 131.8 229.3 132.2 229.3 136.8 228.8 137.2 228.8 140.8 228.3 141.2 228.8 141.8 228.8 152.2 228.8 160.8 228.3 161.2 228.3 174.2 227.8 174.8 227.8 178.8 227.3 179.2 227.3 183.8 220.3 190.8 205.2 190.8ZM153.8 165.8L149.8 165.7 145.2 165.3 136.2 160.7 131.2 157.7 125.8 155.6 121.2 153.3 116.7 151.8 111.1 149.2 106.7 146.8 102.2 143.7 99.5 140.8 96.4 136.8 90.2 131.7 85.8 126.8 84.9 125.2 83.6 120.8 80 115.2 77.6 110.8 68.2 99.9 65.4 96.2 60.3 90.8 59.2 89.2 57.7 86.2 57.8 85.4 59.8 80.6 63.9 73.2 70.1 66.8 73.3 60.8 79.9 50.8 83.2 46.2 88.7 39.8 90.9 37.8 96.7 33.8 107.7 27.2 111.8 25.4 113.3 25.8 118.8 28.2 127.8 28.1 130.8 28.8 136.2 30.5 141.2 30.1 145.8 27.3 151.8 24.2 159.8 26.5 166.9 37.2 172.3 39.2 175.2 40.7 187.2 54.8 191.7 59.8 195.1 64.2 197.3 67.8 198.1 69.8 204.4 86.2 207.2 92.8 210.7 102.8 212.7 111.2 213.3 114.8 213.2 117.1 210.4 122.8 208.5 130.8 204.3 133.2 195.3 147.2 193.2 155.3 187.3 159.2 181.2 162.3 172.8 162.5ZM154.2 148.8L151.8 149 147.8 148.6 138.8 146.5 129.2 143 120.2 139 114.2 135.4 110.2 132.4 105.2 128.2 99.2 122.5 95.4 118.2 91 111.8 88.8 107.2 86.4 103.2 84.3 98.8 80.1 92.8 79.4 89.8 79 85.8 79.9 80.8 80.9 77.2 84.2 72 88.2 67.5 92.2 64.5 97.2 61.5 100.8 59.8 106.2 55.9 113.2 52.5 119.2 50.5 127.8 50.4 133.8 51.4 140.8 53.4 148.2 56.8 150.8 57.4 155.8 59.6 160.2 60.9 163.8 62.3 167.2 64.5 175.2 70.5 178.8 73.7 181 76.2 185.1 82.2 186.9 87.8 189 95.8 190.1 100.8 190.9 107.2 191 112.2 190.4 114.2 187.1 121.8 181 128.8 175.2 135.8 171.6 140.8 167.2 145.7 166.2 146.2 160.8 147.7ZM141.8 134.3L138.2 134.3 134.2 134 129.8 133.2 126.2 132.3 119.8 129.6 112.8 125.3 105.1 118.8 101.2 114.6 97.2 108.8 92.8 99.8 92.4 94.2 92.9 87.8 93.5 83.8 94.4 81.2 97.5 77.2 100.8 74.2 103.6 70.8 106.2 68.2 111.2 64.6 116.8 62.1 119.8 61.5 123.2 61.3 130.2 61.5 133.8 61.8 142.8 63.8 153.5 67.8 159.8 71 164.2 74.2 166.7 77.2 168.6 80.2 171.4 86.8 172.6 90.8 173.6 96.8 174 101.2 174 107.2 172.9 114.8 169.2 122.3 167.7 123.8 163.8 126.4 155.8 130.6 148.2 133.1ZM140.8 121.9L135.2 122.2 126.8 121.7 122.8 121 119.8 120 115.2 117.6 111.2 114.5 108.2 111.2 104.2 105.7 102.2 101.8 101.2 97.2 101 92.8 101.5 88.8 103.1 83.2 105.2 78.7 106.8 76.8 110.8 73.7 112.8 72.6 115.8 71.5 122.2 70 126.2 69.9 134.8 70.6 142.2 72.4 148.2 75 151.2 77 153.8 79.1 156.2 81.8 158 84.2 159.6 87.2 160.9 90.8 161.9 94.8 162.4 98.2 162.5 100.8 162.1 103.2 160.1 109.8 156.6 114.2 152.1 118.2 146.8 120.5ZM129.8 114.3L126.2 114.3 123.8 113.9 120.5 112.2 117.8 110.2 115.5 107.8 113.5 104.8 111 99.8 109.5 95.2 109 92.2 109.3 88.8 110.2 85.4 111.8 82.2 113.2 80.3 115.2 79 118.2 77.5 121.2 76.7 124.8 76.3 129.1 76.8 133.2 76.7 137.2 77.6 140.8 79 143.8 81.1 146.5 84.2 148.9 88.8 150 92.2 150.6 96.2 150.4 100.2 149.2 104.8 147.3 108.2 143.8 110.8 139.2 112.8 135.2 113.8ZM130.8 104.8L129.2 105.1 127.2 105.1 124.8 104.6 123.2 103.9 121.8 103.1 119.7 101.2 119 100.2 117.9 97.8 116.9 92.2 117 90.2 117.5 87.8 118.4 86.2 120.8 83.7 122.8 82.4 125.2 81.4 127.8 81 130.2 81.1 132.2 81.5 135.8 82.9 138.2 84.7 140.1 86.8 141 88.2 142 90.8 142.5 93.2 142.4 95.8 141.5 97.8 140.4 99.2 136.8 102.6 135.2 103.6 132.8 104.5Z"/>
</g>
<clipPath id="c2"><rect x="35" y="256.5" width="198" height="189.0"/></clipPath>
<g clip-path="url(#c2)">
<rect x="35" y="256.5" width="198" height="189.0" fill="#0000ff"/>
<path fill="#0016ff" d="M231.2 445.3L36.7 445.2 35.2 443.8 35.2 443.2 35.2 258.2 36.7 256.8 37.2 256.7 231.3 256.8 232.8 258.2 232.8 258.8 232.8 443.2 232.8 443.8 231.2 445.3Z"/>
<path fill="#002bff" d="M147.8 443.8L133.2 443.5 121.2 442.8 102.8 440.9 92.9 439.2 81.6 436.8 71.8 433.8 64.4 430.8 54.7 425.8 48.5 404.8 45.4 397.2 41 387.8 37.8 378.4 35.8 371.4 35.6 261.8 35.8 260.5 39 257.2 215.4 257.2 229.8 258.5 230.8 259.2 231.8 285.8 232.1 336.8 231.3 375.8 228.8 441.2 194.2 442.4 173.2 443.4 147.8 443.8Z"/>
<path fill="#0041ff" d="M148.2 433.8L143.8 434 136.2 433.9 126.8 432.7 120.2 431.2 107.8 427.5 102.2 424.7 95.2 420.1 90.2 416 86.2 411.8 75.5 398.8 68.7 391.8 62.2 388.1 56.8 385.7 52.2 383.1 49.2 380.6 46.2 377.6 43.9 374.8 41.8 371.6 39.2 367 36.2 360.3 36 351.8 36 297.8 36.5 274.2 37.2 261.8 41.2 257.8 46.8 257.5 174.8 257.5 185.7 257.8 198.2 262.7 210 266.2 214.2 268.3 217.9 271.2 218.9 274.2 220.6 281.8 221.1 284.8 221.7 290.8 222.2 300.8 222.2 309.8 223.2 339.2 222.8 346.8 222 350.8 221.4 362.8 220.3 371.2 217.4 383.8 213.8 394.2 206.2 408.8 202.2 415.2 201 416.8 199.7 417.8 192.8 422.5 189.6 424.2 184.2 426.5 168.2 432 161.2 432.2 148.2 433.8Z"/>
<path fill="#0057ff" d="M145.8 423.8L142.8 424.1 137.2 424.1 133.2 423.9 128.8 423.3 123.2 421.9 116.8 419.7 110.8 418.2 105.8 415.6 100.2 412.2 95.8 408.8 91.8 404.9 81.3 393.2 74.8 387.2 68.8 384.4 63.2 382.5 58.8 380.6 51.8 375.7 49 373.2 46.2 370.3 40.8 362.8 38.5 358.8 37.2 352.2 36.6 346.8 36.5 336.8 36.7 311.2 37 304.8 37.8 293.8 38.7 285.8 39 277.2 40.1 262.8 40.2 261.8 41.2 260.6 46.2 258.6 49.8 258.2 57.8 257.9 157.8 257.9 170.4 258.2 178 259.8 181.8 260.7 182.7 261.2 188.6 265.8 192.8 270 201.2 275.5 203.9 278.2 204.9 279.8 206.7 282.8 207.9 285.8 210 292.2 210.5 294.8 211.4 303.2 211.5 314.8 212.1 320.8 212.3 326.8 213.2 332.8 213.6 338.8 213.3 347.2 212.2 350.8 211.7 356.8 210.8 362.2 208.9 369.2 206.2 376.8 203.7 382.2 200.9 387.2 196.2 393.6 191.2 401.5 188.2 405.2 181.2 411.4 176.2 414.5 169.8 417.6 163.8 421 157.8 421.3 151.2 422.9 145.8 423.8Z"/>
<path fill="#006dff" d="M139.2 417.3L131.2 416.9 124.2 415.5 118.2 413.7 112.2 412.3 104.2 408 99.8 405.1 97.2 403 85 390.2 78.8 384.8 72.8 382.3 67.8 380.8 62.8 378.9 58.2 376.3 53.8 373.1 50.8 370.5 47.6 367.2 43.8 362.7 41 358.8 40.3 357.2 40.3 356.2 39.8 355.8 39.8 354.8 39.4 354.2 39.3 353.2 38.9 352.8 38.8 351.8 38.4 351.2 38.4 349.8 37.9 349.2 37.9 347.8 37.4 347.2 37.4 345.8 37 345.2 37 332.8 37.4 332.2 37.4 323.2 37.9 322.8 37.9 308.2 38.4 307.8 38.4 303.8 38.8 303.2 38.9 299.2 39.3 298.8 39.4 295.2 39.8 294.8 39.8 291.8 40.3 291.2 40.3 289.2 40.8 288 40.8 282.2 42.4 263.8 42.8 262.8 44.2 261.8 44.8 261.8 46.2 260.4 47.8 259.9 48.2 259.4 50.2 259.4 50.8 259 53.2 258.9 53.8 258.5 57.8 258.3 157.8 258.3 162.8 258.5 163.2 258.9 165.8 258.9 166.2 259.4 167.8 259.4 170.2 260.8 171.2 260.8 172.8 261.8 180.2 264.7 183.6 268.8 188.2 275.8 195.2 281.8 198 285.8 200.6 290.8 203.3 298.8 204.2 306.2 204.4 312.8 204.3 317.8 205 323.2 205.2 328.8 206.5 335.2 207 341.2 206.9 347.2 205.8 350.8 205.1 355.8 204.1 360.8 202.1 367.2 199.6 373.2 197.1 378.2 194.4 382.8 189.5 388.8 185.2 395.2 181 400.2 175.6 405.2 160.8 414 155.2 414.3 146.8 416.4 142.2 417.1 139.2 417.3Z"/>
<path fill="#0082ff" d="M140.8 412.3L133.2 412.3 126.2 411.3 119.2 409.3 113.8 408.3 106.8 404.8 101.8 401.7 98.8 399.3 87.7 388.2 81.8 383.1 75.2 380.6 71.7 379.8 65.7 377.8 59.2 374.3 55.2 371.4 54.8 371.3 52.2 368.9 51.8 368.8 46.2 363.3 45.8 363.3 44.2 361.8 41.2 358.2 41.2 357.8 40.7 357.2 40.7 356.2 40.2 355.8 40.2 354.8 39.7 354.2 39.7 353.2 39.2 352.8 39.2 351.8 38.7 351.2 38.7 349.8 38.2 349.2 38.2 347.8 37.7 347.2 37.7 345.8 37.2 345.2 37.2 332.8 37.7 332.2 37.7 323.2 38.2 322.8 38.2 308.2 38.7 307.8 38.7 303.8 39.2 303.2 39.2 299.2 39.7 298.8 39.7 295.2 40.2 294.8 40.2 291.8 40.7 291.2 40.7 289.2 41.2 288.8 41.2 282.2 41.7 281.8 41.7 276.2 42.2 275.8 42.2 271.2 42.7 270.8 42.7 265.8 43.2 265.2 43.2 264.2 43.6 263.8 47.2 260.2 47.8 260.2 48.2 259.7 50.2 259.7 50.8 259.2 53.2 259.2 53.8 258.8 162.8 258.8 163.2 259.2 165.8 259.2 166.2 259.7 167.8 259.7 170.2 261.2 171.2 261.2 171.8 261.7 173.2 262.2 174.2 263.2 174.8 263.2 177.2 265.2 177.8 265.2 179.3 266.8 179.3 267.2 180.8 269.8 180.8 270.8 181.8 272.2 181.8 273.2 183.8 276.8 183.9 277.8 184.8 279.2 184.9 280.2 189.8 284.8 191.8 287.2 195.2 293.5 198.3 301.2 199.3 308.8 199.4 320.2 200.3 327.2 200.4 330.2 202.3 339.2 202.4 343.2 202.3 347.8 201.4 350.2 200.3 356.8 199.3 360.8 197.3 366.2 195.8 369.6 192.3 376.2 190.3 379.2 184.8 385.8 180.2 392.3 177.2 395.8 173.2 399.8 169.8 402.2 163.8 405.6 158.8 409 153.2 409.4 148.8 410.8 140.8 412.3Z"/>
<path fill="#0098ff" d="M142.8 408.3L135.8 408.7 128.8 408.2 114.8 404.8 110.2 402.6 105.8 400.1 102.2 397.7 90.2 386.2 84.3 381.2 78.8 378.9 70.2 375.9 62.1 371.2 56.7 366.8 47.8 357.8 43.7 349.2 42.6 344.8 42.5 338.2 42.8 330.8 43 313.2 45.1 300.8 47.2 291.2 47.8 285.2 49 277.8 49.1 272.2 49.6 269.8 49.8 269.2 53.1 266.2 57.8 264.8 63.8 263.4 72.8 262.1 81.8 261.4 85.8 259.8 89.9 259.2 105.7 259.2 112.8 260.9 118.2 261.2 126.8 260.3 135.8 260.3 137.8 260.5 146.2 263.3 157.8 264.7 164.2 266 170.2 268.8 175.8 272.9 181.6 285.2 185.6 289.2 187.6 291.8 191.1 297.8 194.1 304.8 195.3 312.2 195.9 321.8 197 330.8 198.2 336.8 198.9 341.8 198.9 347.8 198 350.2 196.8 356.8 195.7 360.8 193.7 365.8 191.1 371.2 188.5 375.8 186.2 379 182.2 383.6 178.2 389.2 172.6 395.2 168.8 398.5 157.2 405.5 152.2 406 147.2 407.4 142.8 408.3Z"/>
<path fill="#00aeff" d="M139.2 405.8L131.2 405.7 125.2 404.6 115.8 402.1 111.2 400 106.8 397.5 102.2 394.1 91.9 384.2 86.2 379.8 81.8 377.7 73.8 374.4 67.8 371.1 65.1 369.2 61.3 365.8 53.2 357.5 51.8 354.8 48 349.2 47 344.8 46.8 341.2 47 314.8 49.6 303.2 52 294.8 54.3 282.2 54.2 276.8 54.8 274.3 57.8 271.2 61.2 269.6 67.2 267.6 75.8 265.4 82.2 264.1 86.8 261.4 93.8 260.4 99.8 259.9 107.8 260.7 113.2 263.2 118.8 264.1 127.8 262.8 137.2 262.5 140.8 264.3 145.8 267.8 157.2 269.9 162.2 271.1 167.5 273.8 171.1 276.2 172.8 277.6 173.2 278.2 178.8 289 183.8 294.5 186.8 299.2 190.5 306.8 191.6 310.8 192.6 316.8 193.1 322.8 194.3 331.8 195.4 336.8 196 341.2 196.1 347.8 193.6 358.2 191.2 364.8 187.4 372.2 183.8 377.8 175.2 388.4 171.6 392.2 168.2 395.3 156.2 402.6 151.8 403.2 144.8 405 139.2 405.8Z"/>
<path fill="#00c3ff" d="M136.8 403.3L129.2 402.9 117.2 399.8 112.8 397.9 107.8 395.1 103.8 392.2 93.8 382.8 88.2 378.6 83.9 376.2 78.4 373.8 69.8 368.9 66.4 365.8 59.1 358.2 57.8 356.8 56.5 354.2 51.7 348.8 51 344.8 50.7 340.8 50.9 332.2 50.5 316.2 52.2 310.2 56.3 297.8 59.1 286.8 58.8 281.2 59.4 278.8 62.2 275.5 65.1 273.8 71.8 270.9 83.8 266.5 87.8 262.9 93.8 261.8 99.8 261.1 105.8 261.6 108.2 262 113.8 265.3 119.2 266.8 128.2 265.1 137.2 264.3 140.4 266.8 145.2 271.8 149.2 273.1 155.8 274.4 160.8 275.9 165.7 278.8 170.2 282.2 175.9 292.2 180.8 297.7 184 302.8 187.6 309.8 189.8 317.8 190.6 324.2 192.9 337.2 193.4 341.8 193.5 347.2 192 354.8 190.7 359.2 188.7 364.2 185.9 369.8 181.8 376.2 174.7 385.2 169.8 390.4 165.2 394.1 154.8 400.1 150.8 400.8 143.8 402.5 136.8 403.3Z"/>
<path fill="#00d9ff" d="M137.2 400.8L130.2 400.6 125.2 399.5 116.8 397 112.8 395.2 109.2 393.2 105.2 390.3 98.8 384.7 95.2 381.3 90.2 377.5 73.2 367.9 63.6 357.8 60.7 353.8 55.4 348.8 54.8 345.2 54.5 341.2 54.5 332.8 54.1 327.2 53.9 317.8 55.8 312.2 59.7 302.8 63.8 290.3 63.2 285.2 63.8 283.2 66.2 279.8 68.7 277.8 73.8 274.8 84.8 269 88 264.8 88.8 264.3 94.8 263 100.2 262.1 108.2 263 114.2 267.4 119.8 269.4 128.5 267.2 137.2 266.1 140.3 269.2 144.8 275.6 148.8 277.3 154.2 278.7 158.8 280.2 163.2 282.9 167.8 286.5 173.6 295.8 177.9 300.8 181.6 306.2 184.4 311.2 185.8 314.6 187.3 319.8 190.4 337.2 191 342.2 191.1 347.8 189.6 354.8 188.4 358.8 186.3 363.8 183.2 369.8 179.8 375.1 172.8 383.8 167.8 388.8 163.4 392.2 153.8 397.7 144.2 399.9 137.2 400.8Z"/>
<path fill="#00efff" d="M138.8 398.3L131.8 398.4 126.8 397.6 117.8 394.9 113.8 393.1 110.8 391.4 106.8 388.7 100.3 383.2 97.2 380.2 91.8 376.2 82 369.8 76.8 367 67.9 357.2 65.3 353.8 60.8 350.4 59 348.8 58 341.2 57.9 333.8 57.2 324.2 57.2 318.8 59.7 312.8 63.6 305.2 68.1 294.2 68.2 293.8 67.4 289.2 67.5 288.2 69.9 284.2 72.2 281.5 86.2 271.1 88.7 266.2 89.2 265.7 95.2 264.1 100.8 263.1 108.8 264.1 114.8 269.3 120.2 271.8 129.2 269.2 137.2 267.9 140.2 271.7 144.2 279.2 147.8 281.2 156.8 284.3 161.3 287.2 165.8 290.9 171.1 298.8 174.8 303.2 179.7 310.2 181.8 313.8 184.2 319.2 185.3 323.2 188.1 337.2 188.7 342.2 188.8 347.8 187.6 353.8 186.2 358.2 184.1 363.2 180.9 369.2 177.8 374 171.6 381.8 166.4 386.8 162.2 390.1 158.2 392.6 152.8 395.4 145.2 397.3 138.8 398.3Z"/>
<path fill="#00fffa" d="M140.2 395.8L133.8 396.2 128.2 395.7 119.2 393 112.8 390.1 108.2 387.1 102.8 382.6 98.6 378.8 94.8 376.1 85.3 368.8 80.2 366.2 69.7 353.8 64.2 350.2 62.5 348.8 61.8 344 61.3 334.2 60.5 326.2 60.3 321.8 60.5 319.8 63.3 314.2 67.6 307.2 69.8 302.5 72.4 297.8 72.5 297.2 71.5 292.8 72.3 290.8 75.8 285.1 87.6 273.2 89.7 267.2 90.8 266.8 98.2 264.8 99.8 264.6 100.3 264.2 102.8 264.2 103.8 264.6 106.8 264.8 109.2 265.2 115.2 271.2 120.2 274.2 121.2 274.1 126 272.2 131.1 270.8 135.2 269.7 137.2 269.7 139.8 273.4 143.8 282.8 146.8 284.9 155.2 288.4 159.2 291.3 163.8 295.2 177.1 312.8 179.7 316.8 182.2 322 183.2 325.5 185.7 336.8 186.4 342.2 186.5 347.8 185.7 352.2 184.2 357.3 182.2 362.2 179.2 367.8 176 372.8 170.4 379.8 166.8 383.4 161.8 387.6 157.2 390.5 151.8 393.2 146.8 394.7 140.2 395.8Z"/>
<path fill="#00ffe4" d="M136.2 394.3L130.2 394.2 124.8 393 116.8 390.3 114.2 389.2 110.8 387.1 104.4 382.2 99.8 378 96 375.2 87.2 368.1 82.4 365.2 72.6 353.2 68.3 350.2 66.6 348.8 65.6 342.2 65.3 335.2 64.6 328.2 64.6 321.8 65.2 320.2 68.2 314.7 76.5 301.2 76.1 296.8 79.8 290.8 91.2 279.3 93.2 274.2 95.2 273.2 101.8 271.1 103.8 270.7 110.8 271.3 116.2 276.2 121.2 278.9 129.2 276.9 136.8 276 139.2 279.3 142.8 286.6 143.2 287.1 146.2 289 154.2 292.3 159.8 296.2 163.2 299.5 169.8 307.8 176.4 316.8 179.7 322.8 181 326.8 183.7 338.2 184.2 343.8 184.2 348.2 183 354.2 181.4 359.2 178.1 366.2 175.4 370.8 170.9 376.8 167.8 380.3 162.8 384.8 158.2 388 153.2 390.6 148.2 392.4 142.8 393.6 136.2 394.3Z"/>
<path fill="#00ffce" d="M140.8 392.3L132.8 392.7 127.2 392.1 118.2 389.5 114.8 388 111.8 386.3 105.1 381.2 100.7 377.2 96.8 374.2 88.7 367.2 84.8 364.7 75.5 353.2 70.2 348.8 69.1 342.2 68.3 329.8 68.4 323.2 69.2 321.2 73.2 314.2 80.1 304.2 80.2 300.2 83.8 295.3 94.3 284.8 96.8 279.9 104.2 276.7 106.2 276.4 112.2 276.8 117.8 280.9 122.2 283.1 129.8 281.9 135.2 281.7 136.8 282 139.2 285.2 142.2 290.6 145.2 292.4 153.2 295.7 158.2 298.9 161.2 301.6 167.8 309.3 174.3 318.2 177.5 323.8 178.9 327.2 181.7 338.2 182.3 343.8 182.3 348.2 181.4 353.2 179.9 358.2 178 362.8 175.2 368.2 172.6 372.2 167.9 378.2 164.2 381.7 159.8 385.3 155.8 387.7 150.8 390 145.8 391.4 140.8 392.3Z"/>
<path fill="#00ffb8" d="M140.2 390.8L131.8 391.1 126.2 390.4 118.2 388.1 115.2 386.8 111.8 384.9 105.8 380.3 97.5 373.2 90.5 366.8 86.8 364 77.9 352.8 73.9 349.2 73.3 347.8 72.3 341.2 71.8 331.2 72 324.8 72.7 322.8 77.2 315 83.5 307.2 84.2 303.8 86.5 300.8 97.4 289.8 99.8 285.6 106.8 282.1 109.8 281.9 114.2 282.1 118.2 284.9 122.8 287 129.8 286.6 136.2 287.2 138.8 289.9 141.8 294.2 144.8 295.8 153.2 299.4 157.2 301.8 160.2 304.5 166.2 311.4 172.8 320.2 175.8 325.2 177.5 329.8 179.2 335.8 179.9 339.2 180.4 344.2 180.4 348.2 179.5 353.2 177.9 358.8 175.4 364.8 173 369.2 169.2 374.5 166.2 378.1 162.2 381.8 158.2 384.7 154.2 386.9 150.2 388.6 144.8 390.1 140.2 390.8Z"/>
<path fill="#00ffa3" d="M140.2 389.3L131.2 389.6 125.8 388.9 118.2 386.8 115.2 385.5 111.8 383.5 107.2 380.1 99.3 373.2 91.8 365.9 88.6 363.2 80.6 352.8 77.3 349.2 76.6 347.8 75.6 341.2 75.2 332.2 75.5 326.2 76.5 323.2 80.5 316.8 87.1 309.8 87.8 307.5 88.8 306.3 100.2 294.9 102.8 291.2 108.8 287.5 110.8 287.2 115.2 287.1 119.2 289.1 123.2 290.8 130.2 291.2 135.8 292.4 138.2 294.6 141.2 297.7 150.8 301.6 156.2 304.6 159.8 307.7 163.8 312.1 171.2 322.1 174.2 327.1 176.8 334.2 177.9 338.8 178.6 343.8 178.6 347.8 178.2 351.2 176.9 356.8 175.3 361.2 173 366.2 170.4 370.8 167.2 375 164.3 378.2 160.8 381.3 156.8 384.2 153.2 385.9 149.2 387.4 144.2 388.6 140.2 389.3Z"/>
<path fill="#00ff8d" d="M140.8 387.8L131.2 388.2 125.2 387.5 118.2 385.5 114.8 383.9 111.8 382.2 107.8 379.2 100.4 372.8 90.7 362.8 80.5 349.2 79.8 347.8 78.7 340.8 78.4 333.2 78.9 327.2 79.3 325.8 80.4 323.8 84 318.2 90.2 312.8 91.8 310.5 96.8 306.1 103.2 299.6 105.5 296.8 111.2 292.5 117.2 292.1 124.2 294.6 130.8 295.8 135.8 297.7 140.8 301.1 150.2 304.8 154.8 307 158.2 309.9 162 313.8 169.7 323.8 172.5 328.2 175.2 335.2 176.3 339.8 176.8 344.2 176.8 347.8 176.4 351.2 175 357.2 173.7 361.2 171.5 366.2 169.2 370.2 166.7 373.8 163.8 377.1 160.1 380.2 156.2 383 152.8 384.7 149.2 385.9 140.8 387.8Z"/>
<path fill="#00ff77" d="M141.2 386.3L138.2 386.6 131.8 386.7 125.2 386.2 118.8 384.4 115.2 382.9 112.2 381.2 108.8 378.6 101.6 372.2 93.9 363.8 87 354.8 84.5 350.8 82.9 347.8 81.8 341.8 81.7 334.2 82.5 327.2 84.4 323.8 86.8 320.2 97.8 311.9 100.2 310.2 107.8 302.5 113.2 297.6 118.8 296.8 127.8 299 130.8 300 136.8 303.5 143.8 305.5 153.8 309.6 159.2 314.2 163.6 319.2 170.5 328.8 173.5 335.8 174.5 339.8 175.1 344.2 175.1 347.8 174.6 351.8 173.4 357.2 172 361.8 170 366.2 168 369.8 165.5 373.2 162.9 376.2 159.2 379.4 155.8 381.8 153.2 383.1 149.2 384.5 141.2 386.3Z"/>
<path fill="#00ff62" d="M140.8 385.3L131.8 385.7 125.2 385 118.2 383 114.8 381.4 112.2 379.9 108.8 377.3 102.2 371.4 95.8 364.2 88.8 354.8 85.1 348.2 84 341.2 84.1 334.8 85 328.2 86.9 324.8 88.8 322 90 320.8 101.7 311.8 109.2 304.8 114.2 300.7 119.8 300 127.8 301.9 131.2 302.9 136.8 305.6 142.8 307.2 152.8 311.1 156.2 313.7 159.5 316.8 166.8 325.8 170 330.8 172.2 336.2 173.2 340.2 173.7 344.2 173.8 347.2 173.5 350.8 172 357.2 170.8 361.2 168.8 365.8 166.8 369.4 164.4 372.8 161.7 375.8 158.2 378.7 154.8 381.1 148.8 383.6 140.8 385.3Z"/>
<path fill="#00ff4c" d="M140.8 384.3L132.2 384.7 125.8 384 118.2 381.8 115 380.2 112.2 378.6 108.8 375.9 103.1 370.8 96.9 363.8 90.5 354.8 87.1 348.2 86.3 341.2 86.6 334.8 87.5 329.2 89.7 325.2 91.2 323 94.2 320.2 102.8 313.6 110.2 307.2 115.2 303.8 120.8 303.3 130.8 305.4 136.2 307.5 142.8 309.1 151.9 312.8 156.8 316.3 161.2 320.9 168 329.8 169.2 332 170.6 335.8 172.3 343.2 172.5 346.2 172.4 349.2 171.6 353.2 169.7 360.2 167.9 364.8 166 368.2 163.6 371.8 161 374.8 158.2 377.3 154.8 379.8 148.8 382.5 140.8 384.3Z"/>
<path fill="#00ff36" d="M140.2 383.3L132.2 383.6 126.2 382.9 118.2 380.5 115.2 379.1 112.2 377.3 109.2 375 103.6 369.8 98.3 363.8 92.5 355.2 89.2 348.8 88.5 342.2 89 335.2 90 330.2 92.4 325.8 93.5 324.2 95.5 322.2 101.3 317.2 111.2 309.6 116.8 306.8 121.8 306.5 132.2 308.4 141.8 310.8 151.2 314.5 156.2 318 160.8 322.5 166.8 330.2 168 332.2 169.3 335.8 170.9 342.8 171.2 346.2 171.1 348.8 170.4 352.8 168.3 360.2 166.7 364.2 164.9 367.8 162.8 370.9 160.2 373.8 157.7 376.2 154.2 378.8 148.2 381.5 144.8 382.5 140.2 383.3Z"/>
<path fill="#00ff21" d="M140.2 382.3L132.8 382.6 126.8 381.9 118.8 379.5 115.8 378.1 112.8 376.3 109.8 374 106.2 370.9 102.8 367.4 99.8 363.8 96.9 359.8 94.2 355.2 91.1 348.8 90.8 342.2 91.6 335.2 92.5 331.2 93.9 328.2 95.2 326.2 97.8 323.2 101.1 320.2 108.2 314.7 112.8 311.7 117.8 309.9 123.2 309.8 130.2 310.9 137.2 311.6 142.2 312.9 150.2 316 155.2 319.3 159.8 323.5 163.4 327.8 165.6 330.8 166.8 332.8 167.9 335.8 169.6 343.2 169.8 348.8 167.1 359.8 165.8 363.2 164.1 366.8 162.1 369.8 159.6 372.8 156.8 375.5 153.8 377.7 150.9 379.2 147.8 380.6 144.2 381.6 140.2 382.3Z"/>
<path fill="#00ff0b" d="M140.2 381.3L133.2 381.6 127.2 380.9 118.8 378.3 115.8 376.9 112.8 375 107.2 370.4 103.6 366.8 100.8 363.2 96.1 355.8 93.2 349.2 92.9 344.8 93.4 339.8 94.7 333.2 96.4 329.2 99.2 325.2 103.2 321.2 109.2 316.8 114.2 313.9 119.8 312.9 125.8 313.1 130.2 313.7 136.8 313.5 141.2 314.5 147.2 316.7 152.2 319.2 157.2 323 162.6 328.8 165.9 333.8 167 337.2 168 342.2 168.6 348.2 168 351.2 165.7 359.8 163.2 365.8 161.3 368.8 158.9 371.8 156.2 374.4 153.8 376.3 150.8 378.1 147.2 379.7 143.8 380.6 140.2 381.3Z"/>
<path fill="#0bff00" d="M139.8 380.3L133.2 380.6 127.3 379.8 119.3 377.2 114.2 374.7 110.2 371.8 103.7 365.2 99.2 358.7 96.6 353.2 95 348.8 95.1 344.8 96.4 336.8 98.5 330.8 101.5 326.2 104.2 323.2 109.8 319 114.8 316.4 116.8 316 120.2 315.8 130.8 316.4 136.8 315.4 139.8 316 143.2 317 150.2 320 152.8 321.5 156.2 324.1 161 328.8 162.9 331.2 164.7 334.2 166.6 341.8 167.3 348.2 164.5 359.2 162.1 365.2 158.2 370.8 155.8 373.3 153.2 375.3 150 377.2 146.8 378.8 143.1 379.8 139.8 380.3Z"/>
<path fill="#21ff00" d="M136.8 379.3L131.2 379.2 126.8 378.2 119.2 375.8 116.2 374.2 113 372.2 109.2 369 105.8 365.4 103.6 362.8 99.9 356.8 97.1 350.2 96.7 348.8 96.7 347.2 97.2 341.8 98.6 335.8 100.2 331.2 103.6 326.2 106.5 323.2 110.2 320.4 115.8 317.6 120.8 317.1 130.8 317.6 136.8 316.6 143.2 318.2 149.8 321 155.4 324.8 160.4 329.8 162.6 332.8 163.9 335.2 165.8 343.2 166.2 348.8 163.3 359.8 160.8 365.5 158.8 368.3 156.2 371.2 153.9 373.2 150.8 375.4 147.2 377.1 144.8 378 141.2 378.8 136.8 379.3Z"/>
<path fill="#36ff00" d="M139.2 377.8L134.2 378.1 129.2 377.5 120.8 374.9 115.2 372.1 111 368.8 105.8 363.2 102.2 357.8 99.5 352.2 98.4 348.8 98.6 344.2 99.8 337.8 101.7 332.2 104.5 327.8 107.6 324.2 110.2 322 115.8 319.2 117.2 318.8 120.2 318.4 130.8 318.5 136.2 317.8 139.2 318.2 142.8 319.2 149.2 321.9 154.8 325.5 159.1 329.8 161.3 332.8 162.7 335.2 163.8 338.8 164.8 343.2 165.2 348.8 162.8 358.6 160.6 363.8 158.8 366.6 156.8 369 154.2 371.5 151.8 373.3 148.8 375 145.8 376.3 139.2 377.8Z"/>
<path fill="#4cff00" d="M136.2 376.8L132.8 376.7 129.8 376.3 122.8 374.2 118.2 372.3 114.3 369.8 109.4 365.2 106.1 361.2 103.3 356.8 100.4 350.2 100.1 346.8 100.7 341.8 102 336.2 103.9 331.8 107.2 326.8 110.8 323.4 113.8 321.7 117.2 320.2 121.8 319.5 130.8 319.5 136.2 319 140.8 319.7 145.2 321.2 148.2 322.5 151.2 324.2 155.8 327.8 157.8 329.8 159.7 332.2 161.5 335.2 162.3 337.2 163.9 343.8 164.2 348.8 161.9 358.2 160.7 361.2 159.1 364.2 157.2 366.8 154.8 369.4 152.2 371.5 149.5 373.2 146.2 374.8 143.8 375.6 140.2 376.3 136.2 376.8Z"/>
<path fill="#62ff00" d="M138.8 375.3L134.2 375.5 129.8 375 121.8 372.4 116.8 369.8 112.8 366.7 108.3 361.8 105.3 357.2 102.9 352.2 101.9 349.2 101.9 345.2 103 339.2 104.4 334.8 106.2 331.2 109 327.2 111.8 324.3 114.8 322.7 118.2 321.4 123.8 320.6 136.2 320.1 141.8 321.2 147.8 323.5 153.2 326.9 156.9 330.2 158.8 332.8 160.6 335.8 161.8 339.2 162.7 342.8 163.3 348.2 162.7 351.8 161.2 357.2 158.8 362.8 155.2 367.3 152.8 369.7 150.8 371.1 145.2 373.8 138.8 375.3Z"/>
<path fill="#77ff00" d="M139.8 373.8L135.2 374.2 130.8 373.9 123.2 371.5 120.2 370.2 116.2 367.8 113.3 365.2 109.7 361.2 107 357.2 103.6 349.8 103.6 346.2 104.1 342.2 105.3 337.2 107 333.2 109.8 328.8 111.8 326.2 113.2 325 118.2 322.9 123.8 321.8 133.8 321.3 136.8 321.4 140.2 321.9 146.2 323.9 151.8 327 156 330.8 159 335.2 161.2 341 162 344.2 162.3 347.2 161.9 350.8 160.9 355.2 158.8 360.8 157.6 362.8 155.8 365.2 151.2 369.3 148.8 370.8 145.8 372.2 139.8 373.8Z"/>
<path fill="#8dff00" d="M137.8 372.8L134.2 373 130.2 372.5 127.2 371.2 123.2 370.1 119.8 368.5 116.8 366.5 113.7 363.8 109.9 359.2 107.9 355.8 105.3 349.8 105.3 345.2 105.9 341.8 106.9 337.8 108.9 333.2 112 328.2 114.2 326 119.2 324.1 125.6 322.8 133.2 322.4 137.8 322.6 140.8 323.1 146.2 325.1 151.8 328.3 155.2 331.4 158.2 336.1 160.3 341.2 161.3 347.2 160.8 351.8 160.2 354.2 159.2 357.3 157.7 360.8 156.2 362.9 154.2 365.2 149.8 368.9 146.8 370.5 144.2 371.4 137.8 372.8Z"/>
<path fill="#a3ff00" d="M138.8 371.8L134.2 372.1 130.2 371.7 121.2 368.3 117.8 366.2 114.8 363.7 111.8 360.2 109.5 356.8 106.3 349.8 106.3 346.2 106.6 343.2 107.7 338.8 109.4 334.8 111.8 330.8 114.8 327.2 119.2 325.3 125.2 324 133.2 323.5 137.2 323.7 140.2 324.2 145.2 325.8 150.5 328.8 154.2 332 156.8 335.8 159.2 341.8 160 347.2 159.7 350.8 158.9 354.2 156.9 359.8 155.7 361.8 153.8 364.2 149.7 367.8 144.9 370.2 138.8 371.8Z"/>
<path fill="#b8ff00" d="M136.2 371.3L132.8 371.3 129.8 370.8 122.8 368.2 118.2 365.6 115 362.8 112.1 359.2 110.2 356.2 107.4 350.2 107.2 347.2 107.6 343.2 108.5 339.2 109.8 336.3 112.1 332.2 114.8 329.1 115.8 328.2 118.8 326.8 124.8 325.2 132.2 324.7 137.8 324.9 142.2 325.8 145.2 327 147.8 328.3 151.8 331.1 153.4 332.8 154.8 334.6 156.9 338.8 158.3 343.2 158.7 348.2 158.2 351.8 157.4 355.2 156.3 358.2 155 360.8 153.1 363.2 151.2 365.2 147.1 368.2 142.8 370 139.2 370.9 136.2 371.3Z"/>
<path fill="#ceff00" d="M137.8 370.3L133.8 370.5 130.2 370.2 123.2 367.6 119.8 365.7 116.1 362.8 113.1 359.2 111.2 356.2 108.6 350.8 108.2 348.8 108.3 344.8 109.1 340.8 110 338.2 111.8 334.9 114.2 331.5 116.2 329.5 118.8 328.1 123.2 326.7 127.2 326.1 135.8 325.8 141.2 326.7 145.8 328.4 150.2 331.2 153.1 334.2 155.4 338.2 157.1 343.2 157.5 347.8 157.1 351.2 156.3 354.8 154.2 359.8 151.2 363.8 147.2 367.1 143.2 369 137.8 370.3Z"/>
<path fill="#e4ff00" d="M133.8 369.8L130.2 369.5 126.7 368.2 122.2 366.3 118.8 364 115.8 361.2 113.4 358.2 109.3 350.2 109.1 347.2 109.5 343.2 110.2 340.2 111.8 337 113.8 334 116.8 330.8 119.2 329.3 121.8 328.3 126.2 327.3 135.2 326.9 139.8 327.5 143.8 328.7 147.8 330.8 151.7 334.2 153.8 337.4 155.5 341.8 156 343.8 156.2 346.8 155.7 351.8 154.1 357.2 152.9 359.8 151.6 361.8 148.1 365.2 144.2 367.7 139.2 369.2 133.8 369.8Z"/>
<path fill="#faff00" d="M135.8 368.8L132.8 369 129.8 368.6 123.2 365.9 120.2 364.1 117.2 361.6 114.8 358.7 113.2 356.2 110.3 350.2 110.1 347.2 110.4 343.8 111.2 340.2 112.2 338.2 114.2 335.2 116.8 332.6 118.8 331 121.8 329.5 126.2 328.5 134.2 328 138.2 328.3 142.2 329.3 146.5 331.2 149.6 333.8 152.1 336.8 153.9 340.8 154.9 345.2 154.6 350.8 153.2 356.2 151.3 360.2 148.2 363.8 144.2 366.7 140.2 368.1 135.8 368.8Z"/>
<path fill="#ffef00" d="M137.2 367.8L133.2 368.2 129.8 367.9 126.8 366.8 121.8 364.2 118.1 361.2 115.8 358.6 114.2 356.2 111.3 350.2 111.1 347.8 111.2 344.6 111.8 342 112.8 339.5 114.8 336.4 116.8 334.3 119.3 332.2 122.2 330.6 126.2 329.7 130.8 329.6 134.2 329.2 137.8 329.4 141.7 330.2 145.2 331.8 147.9 333.8 150.8 336.8 152.3 339.8 153.5 343.8 153.6 347.8 153.3 351.2 152.6 354.2 150.8 358.8 148.3 362.2 144.8 365.2 141.8 366.8 137.2 367.8Z"/>
<path fill="#ffd900" d="M136.2 366.8L133.2 367.2 130.2 367 127.8 366.1 122.2 363.2 119.3 360.8 117.1 358.2 115.2 355.2 112.9 350.2 112.6 347.8 112.8 344.8 113.4 341.8 114.3 339.8 116 337.2 117.8 335.2 120.4 333.2 123.2 331.8 126.8 330.9 134.2 330.3 137.2 330.5 141.2 331.3 144.8 332.9 147.2 334.8 149.8 337.8 151.3 340.8 152.4 344.8 152.2 349.8 151.1 354.8 149.3 358.8 146.8 362 143.2 364.8 140.2 366 136.2 366.8Z"/>
<path fill="#ffc300" d="M135.8 365.8L132.8 366.1 129.8 365.8 127.8 365.1 122.8 362.3 120 359.8 118.3 357.8 116.5 354.8 114.4 350.2 114.1 347.8 114.3 344.8 114.9 342.2 115.7 340.2 117 338.2 118.9 336.2 121.2 334.4 123.8 333 127.2 332.2 134.2 331.5 137.2 331.7 140.8 332.4 144.2 334 146.8 336 149 338.8 150.2 341.6 151.1 345.2 150.9 349.8 149.8 354.7 148.2 358 145.8 361.2 142.5 363.8 139.8 364.9 135.8 365.8Z"/>
<path fill="#ffae00" d="M135.2 364.8L131.8 365.1 129.2 364.7 123.8 361.6 121.6 359.8 119.6 357.2 116 350.2 115.7 348.2 115.8 345.2 116.3 342.8 117.2 340.6 118.8 338.5 120.5 336.8 122.6 335.2 124.8 334.2 127.8 333.4 134.2 332.7 137.2 332.8 140.2 333.5 143.8 335.2 146.2 337.2 148 339.8 149.1 342.2 149.9 345.8 149.6 349.8 148.5 354.2 147.2 357.2 144.8 360.2 141.8 362.7 138.8 364 135.2 364.8Z"/>
<path fill="#ff9800" d="M134.8 363.8L131.8 364.1 129.2 363.7 125.8 361.7 123.2 359.8 120.8 356.8 118.2 351.8 117.4 349.8 117.2 347.2 117.6 343.8 118.6 341.2 120 339.2 122.2 337.2 124.8 335.7 126.8 335 135.2 333.8 138.2 334.2 140.8 335 143.1 336.2 145.2 338 146.8 340.1 147.8 342.2 148.5 344.8 148.6 347.2 148.3 350.2 147.3 353.8 146.2 356.2 144.9 358.2 142.8 360.4 140.8 361.8 138.2 362.9 134.8 363.8Z"/>
<path fill="#ff8200" d="M134.2 362.8L131.8 363 129.8 362.8 126.2 360.8 123.9 358.8 122 356.2 119.2 350.8 118.8 349.2 118.8 346.8 119.2 343.8 120 341.8 121.6 339.8 123.8 337.9 125.8 336.8 127.8 336.1 133.2 335.1 135.8 335 138.2 335.4 140.2 336.1 142.2 337.2 144.2 338.8 145.6 340.8 146.7 343.2 147.2 345.2 147.3 347.8 147 350.2 145.9 353.8 145 355.8 143.6 357.8 141.8 359.5 139.8 361 137.8 361.9 134.2 362.8Z"/>
<path fill="#ff6d00" d="M134.2 361.8L131.8 362.1 129.8 361.8 126.8 359.9 124.9 358.2 123.1 355.8 120.5 350.2 120.3 346.2 120.5 344.8 121.3 342.2 122.8 340.6 124.8 338.9 127.8 337.5 132.2 336.4 135.8 336.1 138.2 336.5 139.8 337.1 141.2 337.9 143.5 339.8 144.5 341.2 145.6 343.8 146.1 345.8 146.1 348.2 145 352.8 143.2 356.2 139.8 359.6 136.8 361.1 134.2 361.8Z"/>
<path fill="#ff5700" d="M133.2 361.3L130.8 361.3 129.8 361 126.8 359.1 124.8 357 123.6 355.2 121.3 350.2 121 348.2 121.1 345.8 121.7 343.2 122.2 342.3 123.8 340.6 125.8 339.1 128.2 338.1 132.8 337 136.8 337 138.2 337.3 140.2 338.2 141.8 339.2 143.2 340.6 144.2 342.3 145.1 344.8 145.4 346.8 145.3 348.8 143.9 353.8 141.8 356.9 140.2 358.3 138.2 359.7 135.6 360.8 133.2 361.3Z"/>
<path fill="#ff4100" d="M134.2 360.3L132.2 360.6 130.2 360.4 128.2 359.3 125.9 357.2 124.4 355.2 122.2 350.8 121.8 349.2 121.8 346.8 122.1 344.8 122.8 343 124.2 341.2 125.8 340 129.2 338.6 133.2 337.7 135.8 337.6 137.8 337.9 139.2 338.5 142.3 340.8 143.3 342.2 144.2 344.4 144.6 346.2 144.7 348.2 143.5 352.8 141.8 355.8 139.8 357.8 138.4 358.8 134.2 360.3Z"/>
<path fill="#ff2b00" d="M134.8 359.3L132.8 359.6 130.8 359.6 129.2 358.8 127.1 357.2 125.2 354.9 123.2 350.9 122.8 349.8 122.7 347.8 122.8 345.8 123.4 343.8 125.8 341.2 128.8 339.6 132.8 338.7 134.8 338.5 136.8 338.7 138.2 339.1 141.5 341.2 143.2 344.2 143.8 347.2 143.7 349.2 142.8 352.2 141.2 355.1 138.4 357.8 134.8 359.3Z"/>
<path fill="#ff1600" d="M134.2 358.3L132.2 358.5 130.8 358.3 127.2 355.8 126.1 354.2 124.2 350.2 123.9 347.2 124.6 344.2 127 341.8 129.8 340.5 133.2 339.7 135.2 339.7 137.9 340.2 140.8 342.2 142.3 345.2 142.7 348.2 141.8 352 140.2 354.6 137.8 356.9 134.2 358.3Z"/>
<path fill="#ff0000" d="M133.2 356.8L131.8 356.8 130.8 356.4 129.1 355.2 127.8 353.8 125.8 349.8 125.7 346.8 126.4 344.8 128.8 342.7 133.2 341.4 135.8 341.4 137.9 342.2 139.8 343.9 140.9 346.8 140.9 349.2 139.9 352.2 138.2 354.4 136.2 355.8 133.2 356.8Z"/>
<path fill="none" stroke="#3a3a3a" stroke-width="0.7" stroke-opacity="0.85" stroke-linejoin="round" d="M140.8 412.3L133.2 412.3 126.2 411.3 119.2 409.3 113.8 408.3 106.8 404.8 101.8 401.7 98.8 399.3 87.7 388.2 81.8 383.1 75.2 380.6 71.7 379.8 65.7 377.8 59.2 374.3 55.2 371.4 54.8 371.3 52.2 368.9 51.8 368.8 46.2 363.3 45.8 363.3 44.2 361.8 41.2 358.2 41.2 357.8 40.7 357.2 40.7 356.2 40.2 355.8 40.2 354.8 39.7 354.2 39.7 353.2 39.2 352.8 39.2 351.8 38.7 351.2 38.7 349.8 38.2 349.2 38.2 347.8 37.7 347.2 37.7 345.8 37.2 345.2 37.2 332.8 37.7 332.2 37.7 323.2 38.2 322.8 38.2 308.2 38.7 307.8 38.7 303.8 39.2 303.2 39.2 299.2 39.7 298.8 39.7 295.2 40.2 294.8 40.2 291.8 40.7 291.2 40.7 289.2 41.2 288.8 41.2 282.2 41.7 281.8 41.7 276.2 42.2 275.8 42.2 271.2 42.7 270.8 42.7 265.8 43.2 265.2 43.2 264.2 43.6 263.8 47.2 260.2 47.8 260.2 48.2 259.7 50.2 259.7 50.8 259.2 53.2 259.2 53.8 258.8 162.8 258.8 163.2 259.2 165.8 259.2 166.2 259.7 167.8 259.7 170.2 261.2 171.2 261.2 171.8 261.7 173.2 262.2 174.2 263.2 174.8 263.2 177.2 265.2 177.8 265.2 179.3 266.8 179.3 267.2 180.8 269.8 180.8 270.8 181.8 272.2 181.8 273.2 183.8 276.8 183.9 277.8 184.8 279.2 184.9 280.2 189.8 284.8 191.8 287.2 195.2 293.5 198.3 301.2 199.3 308.8 199.4 320.2 200.3 327.2 200.4 330.2 202.3 339.2 202.4 343.2 202.3 347.8 201.4 350.2 200.3 356.8 199.3 360.8 197.3 366.2 195.8 369.6 192.3 376.2 190.3 379.2 184.8 385.8 180.2 392.3 177.2 395.8 173.2 399.8 169.8 402.2 163.8 405.6 158.8 409 153.2 409.4 148.8 410.8ZM140.2 395.8L133.8 396.2 128.2 395.7 119.2 393 112.8 390.1 108.2 387.1 102.8 382.6 98.6 378.8 94.8 376.1 85.3 368.8 80.2 366.2 69.7 353.8 64.2 350.2 62.5 348.8 61.8 344 61.3 334.2 60.5 326.2 60.3 321.8 60.5 319.8 63.3 314.2 67.6 307.2 69.8 302.5 72.4 297.8 72.5 297.2 71.5 292.8 72.3 290.8 75.8 285.1 87.6 273.2 89.7 267.2 90.8 266.8 98.2 264.8 99.8 264.6 100.3 264.2 102.8 264.2 103.8 264.6 106.8 264.8 109.2 265.2 115.2 271.2 120.2 274.2 121.2 274.1 126 272.2 131.1 270.8 135.2 269.7 137.2 269.7 139.8 273.4 143.8 282.8 146.8 284.9 155.2 288.4 159.2 291.3 163.8 295.2 177.1 312.8 179.7 316.8 182.2 322 183.2 325.5 185.7 336.8 186.4 342.2 186.5 347.8 185.7 352.2 184.2 357.3 182.2 362.2 179.2 367.8 176 372.8 170.4 379.8 166.8 383.4 161.8 387.6 157.2 390.5 151.8 393.2 146.8 394.7ZM141.2 386.3L138.2 386.6 131.8 386.7 125.2 386.2 118.8 384.4 115.2 382.9 112.2 381.2 108.8 378.6 101.6 372.2 93.9 363.8 87 354.8 84.5 350.8 82.9 347.8 81.8 341.8 81.7 334.2 82.5 327.2 84.4 323.8 86.8 320.2 97.8 311.9 100.2 310.2 107.8 302.5 113.2 297.6 118.8 296.8 127.8 299 130.8 300 136.8 303.5 143.8 305.5 153.8 309.6 159.2 314.2 163.6 319.2 170.5 328.8 173.5 335.8 174.5 339.8 175.1 344.2 175.1 347.8 174.6 351.8 173.4 357.2 172 361.8 170 366.2 168 369.8 165.5 373.2 162.9 376.2 159.2 379.4 155.8 381.8 153.2 383.1 149.2 384.5ZM139.8 380.3L133.2 380.6 127.3 379.8 119.3 377.2 114.2 374.7 110.2 371.8 103.7 365.2 99.2 358.7 96.6 353.2 95 348.8 95.1 344.8 96.4 336.8 98.5 330.8 101.5 326.2 104.2 323.2 109.8 319 114.8 316.4 116.8 316 120.2 315.8 130.8 316.4 136.8 315.4 139.8 316 143.2 317 150.2 320 152.8 321.5 156.2 324.1 161 328.8 162.9 331.2 164.7 334.2 166.6 341.8 167.3 348.2 164.5 359.2 162.1 365.2 158.2 370.8 155.8 373.3 153.2 375.3 150 377.2 146.8 378.8 143.1 379.8ZM137.8 372.8L134.2 373 130.2 372.5 127.2 371.2 123.2 370.1 119.8 368.5 116.8 366.5 113.7 363.8 109.9 359.2 107.9 355.8 105.3 349.8 105.3 345.2 105.9 341.8 106.9 337.8 108.9 333.2 112 328.2 114.2 326 119.2 324.1 125.6 322.8 133.2 322.4 137.8 322.6 140.8 323.1 146.2 325.1 151.8 328.3 155.2 331.4 158.2 336.1 160.3 341.2 161.3 347.2 160.8 351.8 160.2 354.2 159.2 357.3 157.7 360.8 156.2 362.9 154.2 365.2 149.8 368.9 146.8 370.5 144.2 371.4ZM137.2 367.8L133.2 368.2 129.8 367.9 126.8 366.8 121.8 364.2 118.1 361.2 115.8 358.6 114.2 356.2 111.3 350.2 111.1 347.8 111.2 344.6 111.8 342 112.8 339.5 114.8 336.4 116.8 334.3 119.3 332.2 122.2 330.6 126.2 329.7 130.8 329.6 134.2 329.2 137.8 329.4 141.7 330.2 145.2 331.8 147.9 333.8 150.8 336.8 152.3 339.8 153.5 343.8 153.6 347.8 153.3 351.2 152.6 354.2 150.8 358.8 148.3 362.2 144.8 365.2 141.8 366.8ZM134.2 361.8L131.8 362.1 129.8 361.8 126.8 359.9 124.9 358.2 123.1 355.8 120.5 350.2 120.3 346.2 120.5 344.8 121.3 342.2 122.8 340.6 124.8 338.9 127.8 337.5 132.2 336.4 135.8 336.1 138.2 336.5 139.8 337.1 141.2 337.9 143.5 339.8 144.5 341.2 145.6 343.8 146.1 345.8 146.1 348.2 145 352.8 143.2 356.2 139.8 359.6 136.8 361.1Z"/>
</g>
<rect x="233" y="190.06" width="26.30000000000001" height="4.24" fill="#0000ff"/>
<rect x="233" y="186.12" width="26.30000000000001" height="4.24" fill="#0016ff"/>
<rect x="233" y="182.19" width="26.30000000000001" height="4.24" fill="#002bff"/>
<rect x="233" y="178.25" width="26.30000000000001" height="4.24" fill="#0041ff"/>
<rect x="233" y="174.31" width="26.30000000000001" height="4.24" fill="#0057ff"/>
<rect x="233" y="170.38" width="26.30000000000001" height="4.24" fill="#006dff"/>
<rect x="233" y="166.44" width="26.30000000000001" height="4.24" fill="#0082ff"/>
<rect x="233" y="162.50" width="26.30000000000001" height="4.24" fill="#0098ff"/>
<rect x="233" y="158.56" width="26.30000000000001" height="4.24" fill="#00aeff"/>
<rect x="233" y="154.62" width="26.30000000000001" height="4.24" fill="#00c3ff"/>
<rect x="233" y="150.69" width="26.30000000000001" height="4.24" fill="#00d9ff"/>
<rect x="233" y="146.75" width="26.30000000000001" height="4.24" fill="#00efff"/>
<rect x="233" y="142.81" width="26.30000000000001" height="4.24" fill="#00fffa"/>
<rect x="233" y="138.88" width="26.30000000000001" height="4.24" fill="#00ffe4"/>
<rect x="233" y="134.94" width="26.30000000000001" height="4.24" fill="#00ffce"/>
<rect x="233" y="131.00" width="26.30000000000001" height="4.24" fill="#00ffb8"/>
<rect x="233" y="127.06" width="26.30000000000001" height="4.24" fill="#00ffa3"/>
<rect x="233" y="123.12" width="26.30000000000001" height="4.24" fill="#00ff8d"/>
<rect x="233" y="119.19" width="26.30000000000001" height="4.24" fill="#00ff77"/>
<rect x="233" y="115.25" width="26.30000000000001" height="4.24" fill="#00ff62"/>
<rect x="233" y="111.31" width="26.30000000000001" height="4.24" fill="#00ff4c"/>
<rect x="233" y="107.38" width="26.30000000000001" height="4.24" fill="#00ff36"/>
<rect x="233" y="103.44" width="26.30000000000001" height="4.24" fill="#00ff21"/>
<rect x="233" y="99.50" width="26.30000000000001" height="4.24" fill="#00ff0b"/>
<rect x="233" y="95.56" width="26.30000000000001" height="4.24" fill="#0bff00"/>
<rect x="233" y="91.62" width="26.30000000000001" height="4.24" fill="#21ff00"/>
<rect x="233" y="87.69" width="26.30000000000001" height="4.24" fill="#36ff00"/>
<rect x="233" y="83.75" width="26.30000000000001" height="4.24" fill="#4cff00"/>
<rect x="233" y="79.81" width="26.30000000000001" height="4.24" fill="#62ff00"/>
<rect x="233" y="75.88" width="26.30000000000001" height="4.24" fill="#77ff00"/>
<rect x="233" y="71.94" width="26.30000000000001" height="4.24" fill="#8dff00"/>
<rect x="233" y="68.00" width="26.30000000000001" height="4.24" fill="#a3ff00"/>
<rect x="233" y="64.06" width="26.30000000000001" height="4.24" fill="#b8ff00"/>
<rect x="233" y="60.12" width="26.30000000000001" height="4.24" fill="#ceff00"/>
<rect x="233" y="56.19" width="26.30000000000001" height="4.24" fill="#e4ff00"/>
<rect x="233" y="52.25" width="26.30000000000001" height="4.24" fill="#faff00"/>
<rect x="233" y="48.31" width="26.30000000000001" height="4.24" fill="#ffef00"/>
<rect x="233" y="44.38" width="26.30000000000001" height="4.24" fill="#ffd900"/>
<rect x="233" y="40.44" width="26.30000000000001" height="4.24" fill="#ffc300"/>
<rect x="233" y="36.50" width="26.30000000000001" height="4.24" fill="#ffae00"/>
<rect x="233" y="32.56" width="26.30000000000001" height="4.24" fill="#ff9800"/>
<rect x="233" y="28.62" width="26.30000000000001" height="4.24" fill="#ff8200"/>
<rect x="233" y="24.69" width="26.30000000000001" height="4.24" fill="#ff6d00"/>
<rect x="233" y="20.75" width="26.30000000000001" height="4.24" fill="#ff5700"/>
<rect x="233" y="16.81" width="26.30000000000001" height="4.24" fill="#ff4100"/>
<rect x="233" y="12.88" width="26.30000000000001" height="4.24" fill="#ff2b00"/>
<rect x="233" y="8.94" width="26.30000000000001" height="4.24" fill="#ff1600"/>
<rect x="233" y="5.00" width="26.30000000000001" height="4.24" fill="#ff0000"/>
<rect x="233" y="191.20" width="26.30000000000001" height="2.8" fill="#000"/>
<path d="M233 8.7h26.30000000000001M233 12.6h26.30000000000001M233 31.6h26.30000000000001M233 35.2h26.30000000000001M233 39.1h26.30000000000001M233 43.0h26.30000000000001M233 62.5h26.30000000000001M233 66.6h26.30000000000001M233 70.6h26.30000000000001M233 74.6h26.30000000000001M233 93.1h26.30000000000001M233 97.0h26.30000000000001M233 101.3h26.30000000000001M233 105.2h26.30000000000001M233 109.3h26.30000000000001M233 124.0h26.30000000000001M233 128.3h26.30000000000001M233 132.4h26.30000000000001M233 136.4h26.30000000000001M233 159.6h26.30000000000001M233 163.5h26.30000000000001M233 167.4h26.30000000000001M233 171.4h26.30000000000001M233 190.6h26.30000000000001" stroke="#fff" stroke-opacity="0.35" stroke-width="1" fill="none"/>
<rect x="35.5" y="5.5" width="197" height="188" fill="none" stroke="#000" stroke-width="0.7" opacity="0.7"/>
<path d="M35.00 194V197.2M32 194.00H35M68.00 194V197.2M32 162.50H35M101.00 194V197.2M32 131.00H35M134.00 194V197.2M32 99.50H35M167.00 194V197.2M32 68.00H35M200.00 194V197.2M32 36.50H35M233.00 194V197.2M32 5.00H35M51.50 194V196M33.5 178.25H35M84.50 194V196M33.5 146.75H35M117.50 194V196M33.5 115.25H35M150.50 194V196M33.5 83.75H35M183.50 194V196M33.5 52.25H35M216.50 194V196M33.5 20.75H35" stroke="#000" stroke-width="0.8" fill="none"/>
<text x="35.00" y="208.8" text-anchor="middle" font-family="Liberation Serif" font-size="10.7">0.0</text>
<text x="29.8" y="197.50" text-anchor="end" font-family="Liberation Serif" font-size="10.7">0.0</text>
<text x="68.00" y="208.8" text-anchor="middle" font-family="Liberation Serif" font-size="10.7">0.1</text>
<text x="29.8" y="166.00" text-anchor="end" font-family="Liberation Serif" font-size="10.7">0.1</text>
<text x="101.00" y="208.8" text-anchor="middle" font-family="Liberation Serif" font-size="10.7">0.2</text>
<text x="29.8" y="134.50" text-anchor="end" font-family="Liberation Serif" font-size="10.7">0.2</text>
<text x="134.00" y="208.8" text-anchor="middle" font-family="Liberation Serif" font-size="10.7">0.3</text>
<text x="29.8" y="103.00" text-anchor="end" font-family="Liberation Serif" font-size="10.7">0.3</text>
<text x="167.00" y="208.8" text-anchor="middle" font-family="Liberation Serif" font-size="10.7">0.4</text>
<text x="29.8" y="71.50" text-anchor="end" font-family="Liberation Serif" font-size="10.7">0.4</text>
<text x="200.00" y="208.8" text-anchor="middle" font-family="Liberation Serif" font-size="10.7">0.5</text>
<text x="29.8" y="40.00" text-anchor="end" font-family="Liberation Serif" font-size="10.7">0.5</text>
<text x="233.00" y="208.8" text-anchor="middle" font-family="Liberation Serif" font-size="10.7">0.6</text>
<text x="29.8" y="8.50" text-anchor="end" font-family="Liberation Serif" font-size="10.7">0.6</text>
<text x="135.0" y="225.9" text-anchor="middle" font-family="Liberation Serif" font-size="10.9">x / cm</text>
<text transform="translate(9.4 99.5) rotate(-90)" x="0" y="0" text-anchor="middle" font-family="Liberation Serif" font-size="10.9">y / cm</text>
<text x="263" y="193.75" font-family="Liberation Serif" font-size="10">0.000</text>
<text x="263" y="170.55" font-family="Liberation Serif" font-size="10">5.550E+11</text>
<text x="263" y="147.35" font-family="Liberation Serif" font-size="10">1.110E+12</text>
<text x="263" y="124.15" font-family="Liberation Serif" font-size="10">1.665E+12</text>
<text x="263" y="100.95" font-family="Liberation Serif" font-size="10">2.220E+12</text>
<text x="263" y="77.75" font-family="Liberation Serif" font-size="10">2.775E+12</text>
<text x="263" y="54.55" font-family="Liberation Serif" font-size="10">3.330E+12</text>
<text x="263" y="31.35" font-family="Liberation Serif" font-size="10">3.885E+12</text>
<text x="263" y="8.15" font-family="Liberation Serif" font-size="10">4.440E+12</text>
<text transform="translate(321.6 98.2) rotate(-90)" x="0" y="0" text-anchor="middle" font-family="Liberation Serif" font-size="10.6" style="stroke-width:0.05px">Intensity / phot. s<tspan dy="-4.5" font-size="7.5">-1</tspan></text>
<rect x="233" y="441.56" width="26.30000000000001" height="4.24" fill="#0000ff"/>
<rect x="233" y="437.62" width="26.30000000000001" height="4.24" fill="#0016ff"/>
<rect x="233" y="433.69" width="26.30000000000001" height="4.24" fill="#002bff"/>
<rect x="233" y="429.75" width="26.30000000000001" height="4.24" fill="#0041ff"/>
<rect x="233" y="425.81" width="26.30000000000001" height="4.24" fill="#0057ff"/>
<rect x="233" y="421.88" width="26.30000000000001" height="4.24" fill="#006dff"/>
<rect x="233" y="417.94" width="26.30000000000001" height="4.24" fill="#0082ff"/>
<rect x="233" y="414.00" width="26.30000000000001" height="4.24" fill="#0098ff"/>
<rect x="233" y="410.06" width="26.30000000000001" height="4.24" fill="#00aeff"/>
<rect x="233" y="406.12" width="26.30000000000001" height="4.24" fill="#00c3ff"/>
<rect x="233" y="402.19" width="26.30000000000001" height="4.24" fill="#00d9ff"/>
<rect x="233" y="398.25" width="26.30000000000001" height="4.24" fill="#00efff"/>
<rect x="233" y="394.31" width="26.30000000000001" height="4.24" fill="#00fffa"/>
<rect x="233" y="390.38" width="26.30000000000001" height="4.24" fill="#00ffe4"/>
<rect x="233" y="386.44" width="26.30000000000001" height="4.24" fill="#00ffce"/>
<rect x="233" y="382.50" width="26.30000000000001" height="4.24" fill="#00ffb8"/>
<rect x="233" y="378.56" width="26.30000000000001" height="4.24" fill="#00ffa3"/>
<rect x="233" y="374.62" width="26.30000000000001" height="4.24" fill="#00ff8d"/>
<rect x="233" y="370.69" width="26.30000000000001" height="4.24" fill="#00ff77"/>
<rect x="233" y="366.75" width="26.30000000000001" height="4.24" fill="#00ff62"/>
<rect x="233" y="362.81" width="26.30000000000001" height="4.24" fill="#00ff4c"/>
<rect x="233" y="358.88" width="26.30000000000001" height="4.24" fill="#00ff36"/>
<rect x="233" y="354.94" width="26.30000000000001" height="4.24" fill="#00ff21"/>
<rect x="233" y="351.00" width="26.30000000000001" height="4.24" fill="#00ff0b"/>
<rect x="233" y="347.06" width="26.30000000000001" height="4.24" fill="#0bff00"/>
<rect x="233" y="343.12" width="26.30000000000001" height="4.24" fill="#21ff00"/>
<rect x="233" y="339.19" width="26.30000000000001" height="4.24" fill="#36ff00"/>
<rect x="233" y="335.25" width="26.30000000000001" height="4.24" fill="#4cff00"/>
<rect x="233" y="331.31" width="26.30000000000001" height="4.24" fill="#62ff00"/>
<rect x="233" y="327.38" width="26.30000000000001" height="4.24" fill="#77ff00"/>
<rect x="233" y="323.44" width="26.30000000000001" height="4.24" fill="#8dff00"/>
<rect x="233" y="319.50" width="26.30000000000001" height="4.24" fill="#a3ff00"/>
<rect x="233" y="315.56" width="26.30000000000001" height="4.24" fill="#b8ff00"/>
<rect x="233" y="311.62" width="26.30000000000001" height="4.24" fill="#ceff00"/>
<rect x="233" y="307.69" width="26.30000000000001" height="4.24" fill="#e4ff00"/>
<rect x="233" y="303.75" width="26.30000000000001" height="4.24" fill="#faff00"/>
<rect x="233" y="299.81" width="26.30000000000001" height="4.24" fill="#ffef00"/>
<rect x="233" y="295.88" width="26.30000000000001" height="4.24" fill="#ffd900"/>
<rect x="233" y="291.94" width="26.30000000000001" height="4.24" fill="#ffc300"/>
<rect x="233" y="288.00" width="26.30000000000001" height="4.24" fill="#ffae00"/>
<rect x="233" y="284.06" width="26.30000000000001" height="4.24" fill="#ff9800"/>
<rect x="233" y="280.12" width="26.30000000000001" height="4.24" fill="#ff8200"/>
<rect x="233" y="276.19" width="26.30000000000001" height="4.24" fill="#ff6d00"/>
<rect x="233" y="272.25" width="26.30000000000001" height="4.24" fill="#ff5700"/>
<rect x="233" y="268.31" width="26.30000000000001" height="4.24" fill="#ff4100"/>
<rect x="233" y="264.38" width="26.30000000000001" height="4.24" fill="#ff2b00"/>
<rect x="233" y="260.44" width="26.30000000000001" height="4.24" fill="#ff1600"/>
<rect x="233" y="256.50" width="26.30000000000001" height="4.24" fill="#ff0000"/>
<rect x="233" y="442.70" width="26.30000000000001" height="2.8" fill="#000"/>
<path d="M233 260.2h26.30000000000001M233 264.1h26.30000000000001M233 268.0h26.30000000000001M233 286.7h26.30000000000001M233 290.6h26.30000000000001M233 294.5h26.30000000000001M233 318.1h26.30000000000001M233 322.1h26.30000000000001M233 326.1h26.30000000000001M233 330.0h26.30000000000001M233 348.5h26.30000000000001M233 352.8h26.30000000000001M233 356.7h26.30000000000001M233 360.8h26.30000000000001M233 379.8h26.30000000000001M233 383.9h26.30000000000001M233 387.9h26.30000000000001M233 411.1h26.30000000000001M233 415.0h26.30000000000001M233 418.9h26.30000000000001M233 422.9h26.30000000000001M233 442.1h26.30000000000001" stroke="#fff" stroke-opacity="0.35" stroke-width="1" fill="none"/>
<rect x="35.5" y="257.0" width="197" height="188.0" fill="none" stroke="#000" stroke-width="0.7" opacity="0.7"/>
<path d="M35.00 445.5V448.7M32 445.50H35M68.00 445.5V448.7M32 414.00H35M101.00 445.5V448.7M32 382.50H35M134.00 445.5V448.7M32 351.00H35M167.00 445.5V448.7M32 319.50H35M200.00 445.5V448.7M32 288.00H35M233.00 445.5V448.7M32 256.50H35M51.50 445.5V447.5M33.5 429.75H35M84.50 445.5V447.5M33.5 398.25H35M117.50 445.5V447.5M33.5 366.75H35M150.50 445.5V447.5M33.5 335.25H35M183.50 445.5V447.5M33.5 303.75H35M216.50 445.5V447.5M33.5 272.25H35" stroke="#000" stroke-width="0.8" fill="none"/>
<text x="35.00" y="460.3" text-anchor="middle" font-family="Liberation Serif" font-size="10.7">0.0</text>
<text x="29.8" y="449.00" text-anchor="end" font-family="Liberation Serif" font-size="10.7">0.0</text>
<text x="68.00" y="460.3" text-anchor="middle" font-family="Liberation Serif" font-size="10.7">0.1</text>
<text x="29.8" y="417.50" text-anchor="end" font-family="Liberation Serif" font-size="10.7">0.1</text>
<text x="101.00" y="460.3" text-anchor="middle" font-family="Liberation Serif" font-size="10.7">0.2</text>
<text x="29.8" y="386.00" text-anchor="end" font-family="Liberation Serif" font-size="10.7">0.2</text>
<text x="134.00" y="460.3" text-anchor="middle" font-family="Liberation Serif" font-size="10.7">0.3</text>
<text x="29.8" y="354.50" text-anchor="end" font-family="Liberation Serif" font-size="10.7">0.3</text>
<text x="167.00" y="460.3" text-anchor="middle" font-family="Liberation Serif" font-size="10.7">0.4</text>
<text x="29.8" y="323.00" text-anchor="end" font-family="Liberation Serif" font-size="10.7">0.4</text>
<text x="200.00" y="460.3" text-anchor="middle" font-family="Liberation Serif" font-size="10.7">0.5</text>
<text x="29.8" y="291.50" text-anchor="end" font-family="Liberation Serif" font-size="10.7">0.5</text>
<text x="233.00" y="460.3" text-anchor="middle" font-family="Liberation Serif" font-size="10.7">0.6</text>
<text x="29.8" y="260.00" text-anchor="end" font-family="Liberation Serif" font-size="10.7">0.6</text>
<text x="135.0" y="478.0" text-anchor="middle" font-family="Liberation Serif" font-size="10.9">x / cm</text>
<text transform="translate(9.4 351.0) rotate(-90)" x="0" y="0" text-anchor="middle" font-family="Liberation Serif" font-size="10.9">y / cm</text>
<text x="263" y="445.90" font-family="Liberation Serif" font-size="10">0.000</text>
<text x="263" y="422.70" font-family="Liberation Serif" font-size="10">1.163E+13</text>
<text x="263" y="399.50" font-family="Liberation Serif" font-size="10">2.325E+13</text>
<text x="263" y="376.30" font-family="Liberation Serif" font-size="10">3.488E+13</text>
<text x="263" y="353.10" font-family="Liberation Serif" font-size="10">4.650E+13</text>
<text x="263" y="329.90" font-family="Liberation Serif" font-size="10">5.813E+13</text>
<text x="263" y="306.70" font-family="Liberation Serif" font-size="10">6.975E+13</text>
<text x="263" y="283.50" font-family="Liberation Serif" font-size="10">8.138E+13</text>
<text x="263" y="260.30" font-family="Liberation Serif" font-size="10">9.300E+13</text>
<text transform="translate(321.6 345.6) rotate(-90)" x="0" y="0" text-anchor="middle" font-family="Liberation Serif" font-size="10.6" style="stroke-width:0.05px">Intensity / phot. s<tspan dy="-4.5" font-size="7.5">-1</tspan></text>
</svg>
</body></html>
